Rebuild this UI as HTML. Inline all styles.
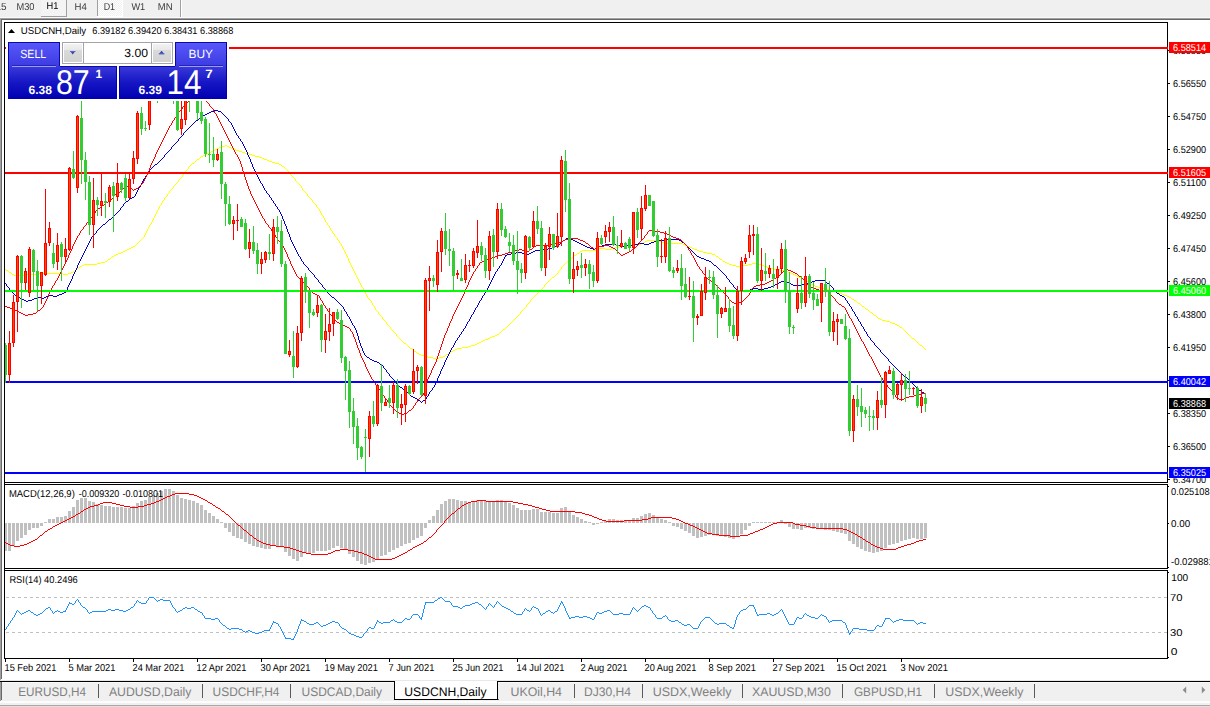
<!DOCTYPE html>
<html><head><meta charset="utf-8"><title>USDCNH,Daily</title>
<style>html,body{margin:0;padding:0;background:#fff;overflow:hidden}svg{display:block}text{font-family:"Liberation Sans",sans-serif;white-space:pre;text-rendering:geometricPrecision}</style>
</head><body>
<svg width="1210" height="707" viewBox="0 0 1210 707">
<defs>
<linearGradient id="gb" x1="0" y1="0" x2="0" y2="1"><stop offset="0" stop-color="#5858fb"/><stop offset="1" stop-color="#3c3ce2"/></linearGradient>
<linearGradient id="gp" x1="0" y1="0" x2="0" y2="1"><stop offset="0" stop-color="#3a3adc"/><stop offset="0.5" stop-color="#1616c4"/><stop offset="1" stop-color="#0000b2"/></linearGradient>
<linearGradient id="gs" x1="0" y1="0" x2="0" y2="1"><stop offset="0" stop-color="#ececec"/><stop offset="0.45" stop-color="#e2e2e2"/><stop offset="0.5" stop-color="#d2d2d2"/><stop offset="1" stop-color="#cacaca"/></linearGradient>
<pattern id="chk" width="2" height="2" patternUnits="userSpaceOnUse"><rect width="2" height="2" fill="#f0f0f0"/><rect width="1" height="1" fill="#fff"/><rect x="1" y="1" width="1" height="1" fill="#fff"/></pattern>
<clipPath id="cm"><rect x="5" y="23" width="1162" height="459"/></clipPath>
<clipPath id="cax"><rect x="1168" y="20" width="42" height="463"/></clipPath>
<filter id="gray" x="0" y="0" width="100%" height="100%" filterUnits="userSpaceOnUse" color-interpolation-filters="sRGB"><feColorMatrix type="saturate" values="0"/></filter>
<linearGradient id="gs1" x1="0" y1="0" x2="0" y2="1"><stop offset="0" stop-color="#f2f2f2"/><stop offset="1" stop-color="#e8e8e8"/></linearGradient>
<linearGradient id="gs2" x1="0" y1="0" x2="0" y2="1"><stop offset="0" stop-color="#dadada"/><stop offset="1" stop-color="#d2d2d2"/></linearGradient>
</defs>
<g shape-rendering="crispEdges">
<rect x="0" y="0" width="1210" height="707" fill="#fff" />
<rect x="0" y="0" width="1210" height="17" fill="#f0f0f0" />
<rect x="0" y="17" width="1210" height="1" fill="#fafafa" />
<rect x="0" y="18" width="1210" height="1" fill="#a0a0a0" />
<rect x="1" y="19" width="1209" height="1" fill="#696969" />
<rect x="0" y="18" width="1" height="662" fill="#a0a0a0" />
<rect x="1" y="19" width="1" height="660" fill="#696969" />
<rect x="41" y="0" width="26" height="16" fill="#f4f4f4" />
<rect x="66" y="0" width="1" height="17" fill="#a0a0a0" />
<rect x="41" y="16" width="26" height="1" fill="#a0a0a0" />
<rect x="98" y="0" width="24" height="16" fill="url(#chk)" />
<rect x="97" y="0" width="1" height="16" fill="#a0a0a0" />
<rect x="97" y="16" width="26" height="1" fill="#fff" />
<rect x="122" y="0" width="1" height="17" fill="#fff" />
<rect x="180" y="0" width="1" height="17" fill="#a0a0a0" />
<rect x="181" y="0" width="1" height="17" fill="#fff" />
</g>
<g filter="url(#gray)">
<text x="-4.6" y="10" font-size="10" fill="#3a3a3a" font-weight="normal" textLength="11.1" lengthAdjust="spacingAndGlyphs" >15</text>
<text x="16.5" y="10" font-size="10" fill="#3a3a3a" font-weight="normal" textLength="18.0" lengthAdjust="spacingAndGlyphs" >M30</text>
<text x="46.6" y="9" font-size="10" fill="#000" font-weight="normal" textLength="11.9" lengthAdjust="spacingAndGlyphs" >H1</text>
<text x="74.6" y="10" font-size="10" fill="#3a3a3a" font-weight="normal" textLength="12.3" lengthAdjust="spacingAndGlyphs" >H4</text>
<text x="103.7" y="10" font-size="10" fill="#3a3a3a" font-weight="normal" textLength="11.4" lengthAdjust="spacingAndGlyphs" >D1</text>
<text x="131.4" y="10" font-size="10" fill="#3a3a3a" font-weight="normal" textLength="13.8" lengthAdjust="spacingAndGlyphs" >W1</text>
<text x="157.8" y="10" font-size="10" fill="#3a3a3a" font-weight="normal" textLength="14.8" lengthAdjust="spacingAndGlyphs" >MN</text>
</g>
<g shape-rendering="crispEdges">
<g clip-path="url(#cm)">
<path d="M5.5 269v1M6.5 270v1M7.5 270v1M8.5 271v1M9.5 272v1M10.5 272v1M11.5 273v1M12.5 274v1M13.5 274v1M14.5 275v1M15.5 275v1M16.5 275v1M17.5 275v1M18.5 275v1M19.5 275v1M20.5 275v1M21.5 275v1M22.5 275v1M23.5 275v1M24.5 275v1M25.5 274v1M26.5 274v1M27.5 274v1M28.5 274v1M29.5 274v1M30.5 274v1M31.5 274v1M32.5 274v1M33.5 274v1M34.5 274v1M35.5 274v1M36.5 273v1M37.5 273v1M38.5 273v1M39.5 273v1M40.5 273v1M41.5 273v1M42.5 273v1M43.5 273v1M44.5 273v1M45.5 273v1M46.5 273v1M47.5 273v1M48.5 273v1M49.5 273v1M50.5 273v1M51.5 273v1M52.5 273v1M53.5 273v1M54.5 273v1M55.5 273v1M56.5 273v1M57.5 273v1M58.5 273v1M59.5 273v1M60.5 273v1M61.5 273v1M62.5 273v1M63.5 274v1M64.5 274v1M65.5 274v1M66.5 274v1M67.5 274v1M68.5 273v1M69.5 273v1M70.5 273v1M71.5 272v1M72.5 272v1M73.5 271v1M74.5 271v1M75.5 270v1M76.5 269v1M77.5 268v1M78.5 268v1M79.5 267v1M80.5 266v1M81.5 266v1M82.5 265v1M83.5 265v1M84.5 264v1M85.5 264v1M86.5 264v1M87.5 264v1M88.5 264v1M89.5 264v1M90.5 264v1M91.5 264v1M92.5 264v1M93.5 264v1M94.5 264v1M95.5 264v1M96.5 264v1M97.5 263v1M98.5 263v1M99.5 263v1M100.5 263v1M101.5 262v1M102.5 262v1M103.5 262v1M104.5 262v1M105.5 261v1M106.5 261v1M107.5 260v1M108.5 259v1M109.5 259v1M110.5 258v1M111.5 257v1M112.5 256v1M113.5 256v1M114.5 255v1M115.5 255v1M116.5 254v1M117.5 254v1M118.5 253v1M119.5 253v1M120.5 253v1M121.5 252v1M122.5 252v1M123.5 251v1M124.5 251v1M125.5 250v1M126.5 250v1M127.5 249v1M128.5 249v1M129.5 248v1M130.5 248v1M131.5 247v1M132.5 247v1M133.5 246v1M134.5 246v1M135.5 245v1M136.5 244v1M137.5 243v1M138.5 242v1M139.5 241v1M140.5 240v1M141.5 239v1M142.5 238v1M143.5 237v1M144.5 235v2M145.5 233v2M146.5 231v2M147.5 229v2M148.5 227v2M149.5 225v2M150.5 224v1M151.5 222v2M152.5 220v2M153.5 218v2M154.5 216v2M155.5 214v2M156.5 212v2M157.5 210v2M158.5 208v2M159.5 206v2M160.5 205v1M161.5 203v2M162.5 201v2M163.5 200v1M164.5 198v2M165.5 197v1M166.5 196v1M167.5 194v2M168.5 193v1M169.5 191v2M170.5 190v1M171.5 189v1M172.5 188v1M173.5 186v2M174.5 185v1M175.5 184v1M176.5 183v1M177.5 182v1M178.5 180v2M179.5 179v1M180.5 178v1M181.5 177v1M182.5 175v2M183.5 174v1M184.5 173v1M185.5 171v2M186.5 170v1M187.5 169v1M188.5 167v2M189.5 166v1M190.5 165v1M191.5 164v1M192.5 163v1M193.5 163v1M194.5 162v1M195.5 161v1M196.5 160v1M197.5 159v1M198.5 159v1M199.5 158v1M200.5 157v1M201.5 156v1M202.5 156v1M203.5 155v1M204.5 155v1M205.5 154v1M206.5 154v1M207.5 153v1M208.5 153v1M209.5 152v1M210.5 152v1M211.5 151v1M212.5 151v1M213.5 150v1M214.5 150v1M215.5 149v1M216.5 149v1M217.5 148v1M218.5 148v1M219.5 147v1M220.5 147v1M221.5 147v1M222.5 146v1M223.5 146v1M224.5 146v1M225.5 145v1M226.5 145v1M227.5 146v1M228.5 146v1M229.5 147v1M230.5 147v1M231.5 148v1M232.5 148v1M233.5 148v1M234.5 149v1M235.5 149v1M236.5 150v1M237.5 150v1M238.5 150v1M239.5 151v1M240.5 151v1M241.5 151v1M242.5 152v1M243.5 152v1M244.5 152v1M245.5 153v1M246.5 153v1M247.5 153v1M248.5 153v1M249.5 154v1M250.5 154v1M251.5 154v1M252.5 155v1M253.5 155v1M254.5 155v1M255.5 156v1M256.5 156v1M257.5 156v1M258.5 156v1M259.5 157v1M260.5 157v1M261.5 157v1M262.5 158v1M263.5 158v1M264.5 159v1M265.5 159v1M266.5 159v1M267.5 160v1M268.5 160v1M269.5 161v1M270.5 161v1M271.5 161v1M272.5 162v1M273.5 162v1M274.5 162v1M275.5 163v1M276.5 163v1M277.5 163v1M278.5 163v1M279.5 164v1M280.5 164v1M281.5 165v1M282.5 166v1M283.5 166v1M284.5 167v1M285.5 168v1M286.5 169v1M287.5 170v1M288.5 171v2M289.5 173v1M290.5 174v1M291.5 175v1M292.5 176v1M293.5 177v1M294.5 178v1M295.5 179v2M296.5 181v1M297.5 182v1M298.5 183v1M299.5 184v1M300.5 185v1M301.5 186v2M302.5 188v2M303.5 190v1M304.5 191v1M305.5 192v1M306.5 193v1M307.5 194v2M308.5 196v1M309.5 197v1M310.5 198v1M311.5 199v1M312.5 200v2M313.5 202v1M314.5 203v1M315.5 204v1M316.5 205v2M317.5 207v1M318.5 208v1M319.5 209v2M320.5 211v2M321.5 213v2M322.5 215v1M323.5 216v2M324.5 218v2M325.5 220v2M326.5 222v1M327.5 223v2M328.5 225v1M329.5 226v2M330.5 228v2M331.5 230v1M332.5 231v2M333.5 233v1M334.5 234v2M335.5 236v1M336.5 237v1M337.5 238v2M338.5 240v1M339.5 241v2M340.5 243v1M341.5 244v2M342.5 246v2M343.5 248v2M344.5 250v2M345.5 252v2M346.5 254v2M347.5 256v2M348.5 258v3M349.5 261v2M350.5 263v2M351.5 265v2M352.5 267v2M353.5 269v2M354.5 271v2M355.5 273v2M356.5 275v2M357.5 277v2M358.5 279v2M359.5 281v2M360.5 283v2M361.5 285v2M362.5 287v1M363.5 288v2M364.5 290v2M365.5 292v2M366.5 294v2M367.5 296v2M368.5 298v1M369.5 299v1M370.5 300v1M371.5 301v2M372.5 303v2M373.5 305v1M374.5 306v2M375.5 308v2M376.5 310v1M377.5 311v1M378.5 312v2M379.5 314v1M380.5 315v1M381.5 316v1M382.5 317v2M383.5 319v1M384.5 320v1M385.5 321v1M386.5 322v2M387.5 324v1M388.5 325v1M389.5 326v1M390.5 327v2M391.5 329v1M392.5 330v1M393.5 331v1M394.5 332v1M395.5 333v1M396.5 334v2M397.5 336v1M398.5 337v1M399.5 338v1M400.5 339v1M401.5 340v1M402.5 341v1M403.5 342v1M404.5 343v1M405.5 343v1M406.5 344v1M407.5 345v1M408.5 346v1M409.5 347v1M410.5 348v1M411.5 348v1M412.5 349v1M413.5 350v1M414.5 351v1M415.5 351v1M416.5 352v1M417.5 353v1M418.5 353v1M419.5 354v1M420.5 354v1M421.5 355v1M422.5 355v1M423.5 355v1M424.5 356v1M425.5 356v1M426.5 356v1M427.5 356v1M428.5 357v1M429.5 357v1M430.5 357v1M431.5 357v1M432.5 357v1M433.5 358v1M434.5 358v1M435.5 358v1M436.5 358v1M437.5 358v1M438.5 358v1M439.5 357v1M440.5 357v1M441.5 357v1M442.5 357v1M443.5 356v1M444.5 356v1M445.5 355v1M446.5 354v1M447.5 354v1M448.5 353v1M449.5 353v1M450.5 352v1M451.5 351v1M452.5 351v1M453.5 350v1M454.5 350v1M455.5 349v1M456.5 349v1M457.5 348v1M458.5 348v1M459.5 348v1M460.5 348v1M461.5 348v1M462.5 347v1M463.5 347v1M464.5 347v1M465.5 347v1M466.5 347v1M467.5 347v1M468.5 346v1M469.5 346v1M470.5 346v1M471.5 345v1M472.5 345v1M473.5 345v1M474.5 345v1M475.5 344v1M476.5 344v1M477.5 343v1M478.5 343v1M479.5 342v1M480.5 342v1M481.5 341v1M482.5 341v1M483.5 340v1M484.5 340v1M485.5 339v1M486.5 339v1M487.5 339v1M488.5 338v1M489.5 338v1M490.5 337v1M491.5 337v1M492.5 336v1M493.5 336v1M494.5 336v1M495.5 335v1M496.5 335v1M497.5 334v1M498.5 334v1M499.5 333v1M500.5 332v1M501.5 331v1M502.5 330v1M503.5 329v1M504.5 329v1M505.5 328v1M506.5 327v1M507.5 326v1M508.5 325v1M509.5 324v1M510.5 323v1M511.5 322v1M512.5 321v1M513.5 320v1M514.5 319v1M515.5 318v1M516.5 317v1M517.5 316v1M518.5 315v1M519.5 314v1M520.5 312v2M521.5 311v1M522.5 310v1M523.5 309v1M524.5 308v1M525.5 307v1M526.5 305v2M527.5 304v1M528.5 303v1M529.5 302v1M530.5 300v2M531.5 299v1M532.5 298v1M533.5 297v1M534.5 296v1M535.5 295v1M536.5 294v1M537.5 293v1M538.5 292v1M539.5 291v1M540.5 290v1M541.5 289v1M542.5 288v1M543.5 287v1M544.5 285v2M545.5 284v1M546.5 283v1M547.5 282v1M548.5 281v1M549.5 280v1M550.5 279v1M551.5 278v1M552.5 277v1M553.5 277v1M554.5 276v1M555.5 275v1M556.5 274v1M557.5 273v1M558.5 271v2M559.5 270v1M560.5 269v1M561.5 267v2M562.5 266v1M563.5 265v1M564.5 264v1M565.5 263v1M566.5 262v1M567.5 261v1M568.5 260v1M569.5 259v1M570.5 258v1M571.5 258v1M572.5 257v1M573.5 256v1M574.5 255v1M575.5 255v1M576.5 254v1M577.5 253v1M578.5 253v1M579.5 252v1M580.5 251v1M581.5 251v1M582.5 250v1M583.5 250v1M584.5 250v1M585.5 250v1M586.5 250v1M587.5 250v1M588.5 250v1M589.5 250v1M590.5 250v1M591.5 250v1M592.5 250v1M593.5 250v1M594.5 250v1M595.5 250v1M596.5 249v1M597.5 249v1M598.5 249v1M599.5 248v1M600.5 248v1M601.5 248v1M602.5 248v1M603.5 248v1M604.5 248v1M605.5 249v1M606.5 249v1M607.5 249v1M608.5 249v1M609.5 249v1M610.5 249v1M611.5 249v1M612.5 248v1M613.5 248v1M614.5 248v1M615.5 247v1M616.5 247v1M617.5 247v1M618.5 247v1M619.5 246v1M620.5 246v1M621.5 246v1M622.5 246v1M623.5 246v1M624.5 246v1M625.5 245v1M626.5 245v1M627.5 245v1M628.5 245v1M629.5 245v1M630.5 245v1M631.5 245v1M632.5 245v1M633.5 245v1M634.5 244v1M635.5 244v1M636.5 244v1M637.5 244v1M638.5 244v1M639.5 244v1M640.5 244v1M641.5 243v1M642.5 243v1M643.5 242v1M644.5 242v1M645.5 241v1M646.5 241v1M647.5 240v1M648.5 240v1M649.5 240v1M650.5 240v1M651.5 240v1M652.5 240v1M653.5 240v1M654.5 240v1M655.5 240v1M656.5 240v1M657.5 240v1M658.5 241v1M659.5 241v1M660.5 241v1M661.5 241v1M662.5 242v1M663.5 242v1M664.5 242v1M665.5 242v1M666.5 242v1M667.5 243v1M668.5 243v1M669.5 243v1M670.5 243v1M671.5 243v1M672.5 243v1M673.5 243v1M674.5 243v1M675.5 243v1M676.5 243v1M677.5 243v1M678.5 243v1M679.5 243v1M680.5 243v1M681.5 243v1M682.5 243v1M683.5 244v1M684.5 244v1M685.5 245v1M686.5 245v1M687.5 246v1M688.5 246v1M689.5 246v1M690.5 247v1M691.5 247v1M692.5 248v1M693.5 248v1M694.5 249v1M695.5 249v1M696.5 249v1M697.5 250v1M698.5 250v1M699.5 251v1M700.5 251v1M701.5 251v1M702.5 251v1M703.5 252v1M704.5 252v1M705.5 252v1M706.5 252v1M707.5 253v1M708.5 253v1M709.5 253v1M710.5 253v1M711.5 253v1M712.5 254v1M713.5 254v1M714.5 254v1M715.5 255v1M716.5 256v1M717.5 256v1M718.5 257v1M719.5 258v1M720.5 259v1M721.5 259v1M722.5 260v1M723.5 261v1M724.5 261v1M725.5 262v1M726.5 262v1M727.5 263v1M728.5 263v1M729.5 264v1M730.5 264v1M731.5 264v1M732.5 265v1M733.5 265v1M734.5 265v1M735.5 265v1M736.5 266v1M737.5 266v1M738.5 266v1M739.5 266v1M740.5 266v1M741.5 266v1M742.5 265v1M743.5 265v1M744.5 265v1M745.5 265v1M746.5 265v1M747.5 265v1M748.5 264v1M749.5 264v1M750.5 264v1M751.5 264v1M752.5 263v1M753.5 263v1M754.5 263v1M755.5 263v1M756.5 263v1M757.5 264v1M758.5 264v1M759.5 264v1M760.5 264v1M761.5 264v1M762.5 265v1M763.5 265v1M764.5 266v1M765.5 266v1M766.5 266v1M767.5 267v1M768.5 267v1M769.5 267v1M770.5 268v1M771.5 268v1M772.5 268v1M773.5 268v1M774.5 269v1M775.5 269v1M776.5 269v1M777.5 269v1M778.5 269v1M779.5 269v1M780.5 270v1M781.5 270v1M782.5 270v1M783.5 270v1M784.5 270v1M785.5 270v1M786.5 271v1M787.5 271v1M788.5 272v1M789.5 272v1M790.5 272v1M791.5 273v1M792.5 273v1M793.5 274v1M794.5 274v1M795.5 275v1M796.5 275v1M797.5 276v1M798.5 276v1M799.5 277v1M800.5 277v1M801.5 278v1M802.5 278v1M803.5 279v1M804.5 280v1M805.5 280v1M806.5 281v1M807.5 281v1M808.5 282v1M809.5 283v1M810.5 283v1M811.5 284v1M812.5 284v1M813.5 285v1M814.5 285v1M815.5 286v1M816.5 286v1M817.5 286v1M818.5 287v1M819.5 287v1M820.5 287v1M821.5 287v1M822.5 288v1M823.5 288v1M824.5 288v1M825.5 288v1M826.5 289v1M827.5 289v1M828.5 289v1M829.5 289v1M830.5 290v1M831.5 290v1M832.5 290v1M833.5 290v1M834.5 291v1M835.5 291v1M836.5 292v1M837.5 292v1M838.5 292v1M839.5 293v1M840.5 293v1M841.5 293v1M842.5 294v1M843.5 294v1M844.5 295v1M845.5 295v1M846.5 295v1M847.5 296v1M848.5 296v1M849.5 297v1M850.5 297v1M851.5 298v1M852.5 299v1M853.5 299v1M854.5 300v1M855.5 300v1M856.5 301v1M857.5 302v1M858.5 303v1M859.5 303v1M860.5 304v1M861.5 305v1M862.5 306v1M863.5 306v1M864.5 307v1M865.5 308v1M866.5 309v1M867.5 309v1M868.5 310v1M869.5 311v1M870.5 312v1M871.5 312v1M872.5 313v1M873.5 314v1M874.5 315v1M875.5 315v1M876.5 316v1M877.5 317v1M878.5 318v1M879.5 318v1M880.5 319v1M881.5 319v1M882.5 320v1M883.5 320v1M884.5 320v1M885.5 320v1M886.5 321v1M887.5 321v1M888.5 321v1M889.5 321v1M890.5 322v1M891.5 322v1M892.5 323v1M893.5 323v1M894.5 323v1M895.5 324v1M896.5 324v1M897.5 325v1M898.5 325v1M899.5 326v1M900.5 327v1M901.5 327v1M902.5 328v1M903.5 329v1M904.5 330v1M905.5 331v1M906.5 332v1M907.5 333v1M908.5 334v1M909.5 335v1M910.5 336v1M911.5 337v1M912.5 338v1M913.5 338v1M914.5 339v1M915.5 340v1M916.5 341v1M917.5 342v1M918.5 343v1M919.5 344v1M920.5 345v1M921.5 345v1M922.5 346v1M923.5 347v1M924.5 348v1M925.5 349v1" fill="none" stroke="#ffff00" stroke-width="1"/>
<path d="M5.5 283v1M6.5 284v2M7.5 286v1M8.5 287v1M9.5 288v2M10.5 290v1M11.5 291v1M12.5 292v1M13.5 293v1M14.5 294v1M15.5 295v1M16.5 296v1M17.5 296v1M18.5 297v1M19.5 297v1M20.5 298v1M21.5 298v1M22.5 299v1M23.5 299v1M24.5 300v1M25.5 300v1M26.5 301v1M27.5 301v1M28.5 300v1M29.5 300v1M30.5 300v1M31.5 300v1M32.5 299v1M33.5 299v1M34.5 298v1M35.5 298v1M36.5 298v1M37.5 297v1M38.5 297v1M39.5 297v1M40.5 297v1M41.5 298v1M42.5 298v1M43.5 298v1M44.5 297v1M45.5 297v1M46.5 296v1M47.5 296v1M48.5 296v1M49.5 295v1M50.5 295v1M51.5 295v1M52.5 295v1M53.5 296v1M54.5 296v1M55.5 296v1M56.5 296v1M57.5 295v1M58.5 295v1M59.5 294v1M60.5 294v1M61.5 294v1M62.5 293v1M63.5 293v1M64.5 292v1M65.5 292v1M66.5 290v2M67.5 287v3M68.5 285v2M69.5 283v2M70.5 281v2M71.5 279v2M72.5 276v3M73.5 274v2M74.5 272v2M75.5 270v2M76.5 268v2M77.5 265v3M78.5 263v2M79.5 261v2M80.5 259v2M81.5 257v2M82.5 255v2M83.5 253v2M84.5 251v2M85.5 249v2M86.5 247v2M87.5 245v2M88.5 243v2M89.5 241v2M90.5 239v2M91.5 237v2M92.5 236v1M93.5 235v1M94.5 234v1M95.5 233v1M96.5 231v2M97.5 230v1M98.5 229v1M99.5 228v1M100.5 227v1M101.5 226v1M102.5 225v1M103.5 224v1M104.5 224v1M105.5 223v1M106.5 222v1M107.5 221v1M108.5 220v1M109.5 219v1M110.5 219v1M111.5 218v1M112.5 217v1M113.5 216v1M114.5 215v1M115.5 214v1M116.5 213v1M117.5 212v1M118.5 211v1M119.5 210v1M120.5 208v2M121.5 207v1M122.5 206v1M123.5 204v2M124.5 203v1M125.5 202v1M126.5 201v1M127.5 201v1M128.5 200v1M129.5 199v1M130.5 198v1M131.5 198v1M132.5 197v1M133.5 197v1M134.5 196v1M135.5 194v2M136.5 192v2M137.5 190v2M138.5 188v2M139.5 187v1M140.5 185v2M141.5 183v2M142.5 181v2M143.5 179v2M144.5 178v1M145.5 176v2M146.5 175v1M147.5 173v2M148.5 172v1M149.5 170v2M150.5 169v1M151.5 168v1M152.5 167v1M153.5 166v1M154.5 165v1M155.5 164v1M156.5 164v1M157.5 163v1M158.5 162v1M159.5 161v1M160.5 160v1M161.5 159v1M162.5 158v1M163.5 157v1M164.5 155v2M165.5 154v1M166.5 153v1M167.5 152v1M168.5 151v1M169.5 150v1M170.5 149v1M171.5 147v2M172.5 146v1M173.5 145v1M174.5 144v1M175.5 143v1M176.5 142v1M177.5 141v1M178.5 139v2M179.5 138v1M180.5 137v1M181.5 136v1M182.5 135v1M183.5 133v2M184.5 132v1M185.5 131v1M186.5 130v1M187.5 129v1M188.5 128v1M189.5 127v1M190.5 126v1M191.5 125v1M192.5 124v1M193.5 123v1M194.5 122v1M195.5 121v1M196.5 120v1M197.5 120v1M198.5 119v1M199.5 118v1M200.5 117v1M201.5 117v1M202.5 116v1M203.5 115v1M204.5 115v1M205.5 114v1M206.5 114v1M207.5 113v1M208.5 113v1M209.5 112v1M210.5 112v1M211.5 111v1M212.5 111v1M213.5 111v1M214.5 110v1M215.5 110v1M216.5 110v1M217.5 110v1M218.5 111v1M219.5 111v1M220.5 111v1M221.5 112v1M222.5 113v1M223.5 114v1M224.5 115v1M225.5 116v1M226.5 117v1M227.5 118v1M228.5 119v2M229.5 121v1M230.5 122v1M231.5 123v2M232.5 125v2M233.5 127v2M234.5 129v2M235.5 131v2M236.5 133v2M237.5 135v1M238.5 136v2M239.5 138v1M240.5 139v2M241.5 141v1M242.5 142v2M243.5 144v2M244.5 146v2M245.5 148v2M246.5 150v2M247.5 152v3M248.5 155v2M249.5 157v2M250.5 159v3M251.5 162v2M252.5 164v3M253.5 167v2M254.5 169v2M255.5 171v2M256.5 173v2M257.5 175v2M258.5 177v2M259.5 179v2M260.5 181v2M261.5 183v1M262.5 184v2M263.5 186v2M264.5 188v2M265.5 190v1M266.5 191v2M267.5 193v1M268.5 194v1M269.5 195v2M270.5 197v1M271.5 198v2M272.5 200v1M273.5 201v2M274.5 203v1M275.5 204v2M276.5 206v1M277.5 207v2M278.5 209v1M279.5 210v2M280.5 212v2M281.5 214v2M282.5 216v3M283.5 219v2M284.5 221v3M285.5 224v2M286.5 226v3M287.5 229v3M288.5 232v2M289.5 234v3M290.5 237v3M291.5 240v2M292.5 242v2M293.5 244v2M294.5 246v2M295.5 248v2M296.5 250v2M297.5 252v2M298.5 254v2M299.5 256v1M300.5 257v2M301.5 259v2M302.5 261v1M303.5 262v2M304.5 264v1M305.5 265v1M306.5 266v1M307.5 267v1M308.5 268v2M309.5 270v1M310.5 271v1M311.5 272v1M312.5 273v1M313.5 274v1M314.5 275v2M315.5 277v1M316.5 278v1M317.5 279v1M318.5 280v2M319.5 282v1M320.5 283v1M321.5 284v1M322.5 285v2M323.5 287v1M324.5 288v1M325.5 289v1M326.5 290v2M327.5 292v1M328.5 293v1M329.5 294v1M330.5 295v1M331.5 296v1M332.5 297v1M333.5 297v1M334.5 298v1M335.5 299v1M336.5 300v1M337.5 301v1M338.5 302v1M339.5 303v1M340.5 304v1M341.5 305v1M342.5 306v1M343.5 307v2M344.5 309v2M345.5 311v1M346.5 312v2M347.5 314v2M348.5 316v1M349.5 317v2M350.5 319v2M351.5 321v2M352.5 323v2M353.5 325v1M354.5 326v2M355.5 328v2M356.5 330v3M357.5 333v3M358.5 336v4M359.5 340v3M360.5 343v3M361.5 346v2M362.5 348v3M363.5 351v2M364.5 353v2M365.5 355v1M366.5 356v1M367.5 357v1M368.5 357v1M369.5 358v1M370.5 359v1M371.5 359v1M372.5 360v1M373.5 360v1M374.5 361v1M375.5 361v1M376.5 361v1M377.5 362v1M378.5 362v1M379.5 363v1M380.5 364v1M381.5 364v1M382.5 365v1M383.5 366v2M384.5 368v1M385.5 369v1M386.5 370v2M387.5 372v1M388.5 373v1M389.5 374v2M390.5 376v1M391.5 377v1M392.5 378v1M393.5 379v1M394.5 380v2M395.5 382v1M396.5 383v1M397.5 384v1M398.5 385v1M399.5 386v1M400.5 387v1M401.5 387v1M402.5 388v1M403.5 389v1M404.5 390v1M405.5 391v1M406.5 392v1M407.5 392v1M408.5 393v1M409.5 394v1M410.5 395v1M411.5 396v1M412.5 396v1M413.5 397v1M414.5 397v1M415.5 398v1M416.5 398v1M417.5 399v1M418.5 400v1M419.5 400v1M420.5 401v1M421.5 402v1M422.5 401v1M423.5 400v1M424.5 400v1M425.5 399v1M426.5 397v2M427.5 396v1M428.5 394v2M429.5 392v2M430.5 391v1M431.5 390v1M432.5 388v2M433.5 387v1M434.5 385v2M435.5 383v2M436.5 381v2M437.5 378v3M438.5 376v2M439.5 374v2M440.5 371v3M441.5 369v2M442.5 367v2M443.5 365v2M444.5 362v3M445.5 360v2M446.5 358v2M447.5 356v2M448.5 354v2M449.5 352v2M450.5 350v2M451.5 348v2M452.5 347v1M453.5 345v2M454.5 343v2M455.5 341v2M456.5 340v1M457.5 338v2M458.5 337v1M459.5 335v2M460.5 334v1M461.5 332v2M462.5 331v1M463.5 329v2M464.5 328v1M465.5 326v2M466.5 324v2M467.5 322v2M468.5 321v1M469.5 319v2M470.5 317v2M471.5 315v2M472.5 314v1M473.5 312v2M474.5 310v2M475.5 308v2M476.5 307v1M477.5 305v2M478.5 303v2M479.5 301v2M480.5 300v1M481.5 298v2M482.5 296v2M483.5 295v1M484.5 293v2M485.5 291v2M486.5 290v1M487.5 288v2M488.5 286v2M489.5 284v2M490.5 282v2M491.5 280v2M492.5 278v2M493.5 276v2M494.5 274v2M495.5 272v2M496.5 271v1M497.5 269v2M498.5 268v1M499.5 266v2M500.5 265v1M501.5 263v2M502.5 261v2M503.5 259v2M504.5 257v2M505.5 255v2M506.5 255v1M507.5 254v1M508.5 254v1M509.5 254v1M510.5 254v1M511.5 253v1M512.5 253v1M513.5 253v1M514.5 253v1M515.5 253v1M516.5 252v1M517.5 252v1M518.5 252v1M519.5 252v1M520.5 252v1M521.5 252v1M522.5 253v1M523.5 253v1M524.5 253v1M525.5 253v1M526.5 254v1M527.5 254v1M528.5 254v1M529.5 253v1M530.5 253v1M531.5 252v1M532.5 252v1M533.5 251v1M534.5 251v1M535.5 250v1M536.5 250v1M537.5 250v1M538.5 250v1M539.5 250v1M540.5 250v1M541.5 249v1M542.5 249v1M543.5 249v1M544.5 249v1M545.5 249v1M546.5 249v1M547.5 249v1M548.5 248v1M549.5 248v1M550.5 248v1M551.5 248v1M552.5 247v1M553.5 247v1M554.5 247v1M555.5 246v1M556.5 246v1M557.5 245v1M558.5 244v1M559.5 244v1M560.5 243v1M561.5 242v1M562.5 241v1M563.5 240v1M564.5 240v1M565.5 239v1M566.5 238v1M567.5 238v1M568.5 238v1M569.5 239v1M570.5 239v1M571.5 239v1M572.5 239v1M573.5 240v1M574.5 240v1M575.5 241v1M576.5 241v1M577.5 242v1M578.5 242v1M579.5 243v1M580.5 243v1M581.5 244v1M582.5 244v1M583.5 245v1M584.5 245v1M585.5 246v1M586.5 246v1M587.5 247v1M588.5 247v1M589.5 247v1M590.5 248v1M591.5 248v1M592.5 248v1M593.5 249v1M594.5 249v1M595.5 248v1M596.5 248v1M597.5 247v1M598.5 247v1M599.5 246v1M600.5 246v1M601.5 246v1M602.5 245v1M603.5 245v1M604.5 245v1M605.5 244v1M606.5 244v1M607.5 244v1M608.5 244v1M609.5 244v1M610.5 244v1M611.5 244v1M612.5 244v1M613.5 244v1M614.5 244v1M615.5 244v1M616.5 245v1M617.5 245v1M618.5 245v1M619.5 245v1M620.5 246v1M621.5 246v1M622.5 246v1M623.5 246v1M624.5 246v1M625.5 246v1M626.5 246v1M627.5 245v1M628.5 245v1M629.5 245v1M630.5 245v1M631.5 245v1M632.5 245v1M633.5 245v1M634.5 244v1M635.5 244v1M636.5 244v1M637.5 244v1M638.5 243v1M639.5 243v1M640.5 243v1M641.5 243v1M642.5 243v1M643.5 243v1M644.5 244v1M645.5 244v1M646.5 244v1M647.5 244v1M648.5 244v1M649.5 243v1M650.5 243v1M651.5 242v1M652.5 242v1M653.5 242v1M654.5 241v1M655.5 241v1M656.5 241v1M657.5 241v1M658.5 240v1M659.5 240v1M660.5 240v1M661.5 240v1M662.5 240v1M663.5 240v1M664.5 239v1M665.5 239v1M666.5 239v1M667.5 239v1M668.5 239v1M669.5 239v1M670.5 239v1M671.5 239v1M672.5 239v1M673.5 239v1M674.5 239v1M675.5 239v1M676.5 239v1M677.5 239v1M678.5 239v1M679.5 240v1M680.5 240v1M681.5 241v1M682.5 242v1M683.5 242v1M684.5 243v1M685.5 244v1M686.5 245v1M687.5 246v1M688.5 247v1M689.5 248v1M690.5 249v1M691.5 250v1M692.5 251v1M693.5 252v1M694.5 253v1M695.5 254v1M696.5 255v1M697.5 256v1M698.5 256v1M699.5 257v1M700.5 257v1M701.5 258v1M702.5 258v1M703.5 258v1M704.5 259v1M705.5 259v1M706.5 260v1M707.5 260v1M708.5 260v1M709.5 261v1M710.5 261v1M711.5 262v1M712.5 263v1M713.5 264v1M714.5 265v1M715.5 265v1M716.5 266v1M717.5 267v1M718.5 268v1M719.5 269v1M720.5 270v1M721.5 271v1M722.5 272v1M723.5 273v1M724.5 274v1M725.5 275v1M726.5 276v2M727.5 278v1M728.5 279v1M729.5 280v2M730.5 282v1M731.5 283v1M732.5 284v1M733.5 285v2M734.5 287v1M735.5 288v1M736.5 289v1M737.5 289v1M738.5 290v1M739.5 290v1M740.5 290v1M741.5 290v1M742.5 290v1M743.5 290v1M744.5 290v1M745.5 290v1M746.5 290v1M747.5 290v1M748.5 290v1M749.5 290v1M750.5 289v1M751.5 289v1M752.5 289v1M753.5 288v1M754.5 288v1M755.5 288v1M756.5 288v1M757.5 288v1M758.5 289v1M759.5 289v1M760.5 289v1M761.5 289v1M762.5 289v1M763.5 289v1M764.5 288v1M765.5 288v1M766.5 288v1M767.5 288v1M768.5 287v1M769.5 287v1M770.5 287v1M771.5 286v1M772.5 286v1M773.5 285v1M774.5 285v1M775.5 284v1M776.5 284v1M777.5 283v1M778.5 283v1M779.5 282v1M780.5 282v1M781.5 281v1M782.5 281v1M783.5 281v1M784.5 281v1M785.5 282v1M786.5 282v1M787.5 282v1M788.5 282v1M789.5 283v1M790.5 283v1M791.5 284v1M792.5 284v1M793.5 285v1M794.5 285v1M795.5 285v1M796.5 285v1M797.5 285v1M798.5 285v1M799.5 285v1M800.5 285v1M801.5 285v1M802.5 284v1M803.5 284v1M804.5 284v1M805.5 284v1M806.5 283v1M807.5 283v1M808.5 283v1M809.5 283v1M810.5 282v1M811.5 282v1M812.5 281v1M813.5 281v1M814.5 281v1M815.5 280v1M816.5 280v1M817.5 280v1M818.5 280v1M819.5 280v1M820.5 280v1M821.5 280v1M822.5 280v1M823.5 280v1M824.5 280v1M825.5 281v1M826.5 282v1M827.5 283v1M828.5 283v1M829.5 284v1M830.5 285v1M831.5 286v1M832.5 287v1M833.5 288v2M834.5 290v1M835.5 291v1M836.5 292v1M837.5 293v1M838.5 293v1M839.5 294v1M840.5 295v1M841.5 295v1M842.5 296v1M843.5 296v1M844.5 297v1M845.5 298v2M846.5 300v1M847.5 301v2M848.5 303v1M849.5 304v2M850.5 306v1M851.5 307v2M852.5 309v2M853.5 311v1M854.5 312v2M855.5 314v2M856.5 316v1M857.5 317v2M858.5 319v2M859.5 321v1M860.5 322v2M861.5 324v2M862.5 326v1M863.5 327v2M864.5 329v2M865.5 331v1M866.5 332v2M867.5 334v2M868.5 336v1M869.5 337v1M870.5 338v2M871.5 340v1M872.5 341v1M873.5 342v1M874.5 343v2M875.5 345v1M876.5 346v1M877.5 347v1M878.5 348v1M879.5 349v1M880.5 350v2M881.5 352v1M882.5 353v1M883.5 354v1M884.5 355v1M885.5 356v1M886.5 357v1M887.5 358v1M888.5 359v2M889.5 361v1M890.5 362v1M891.5 363v1M892.5 364v1M893.5 365v1M894.5 366v1M895.5 367v1M896.5 368v1M897.5 369v1M898.5 370v1M899.5 371v1M900.5 372v1M901.5 373v1M902.5 374v1M903.5 375v1M904.5 376v1M905.5 376v1M906.5 377v1M907.5 378v1M908.5 379v1M909.5 380v1M910.5 381v1M911.5 382v1M912.5 383v1M913.5 384v1M914.5 385v1M915.5 386v1M916.5 387v1M917.5 388v1M918.5 389v1M919.5 390v1M920.5 390v1M921.5 391v1M922.5 392v1M923.5 392v1M924.5 393v1M925.5 393v1" fill="none" stroke="#0000cd" stroke-width="1"/>
<path d="M5.5 306v1M6.5 306v1M7.5 307v1M8.5 307v1M9.5 307v1M10.5 308v1M11.5 308v1M12.5 308v1M13.5 309v1M14.5 309v1M15.5 310v1M16.5 310v1M17.5 311v1M18.5 311v1M19.5 312v1M20.5 312v1M21.5 313v1M22.5 313v1M23.5 314v1M24.5 314v1M25.5 315v1M26.5 315v1M27.5 315v1M28.5 314v1M29.5 314v1M30.5 314v1M31.5 314v1M32.5 314v1M33.5 313v1M34.5 313v1M35.5 313v1M36.5 312v1M37.5 311v1M38.5 310v1M39.5 310v1M40.5 309v1M41.5 308v1M42.5 307v1M43.5 305v2M44.5 303v2M45.5 301v2M46.5 299v2M47.5 297v2M48.5 294v3M49.5 292v2M50.5 290v2M51.5 288v2M52.5 286v2M53.5 285v1M54.5 283v2M55.5 281v2M56.5 280v1M57.5 278v2M58.5 276v2M59.5 274v2M60.5 272v2M61.5 270v2M62.5 268v2M63.5 266v2M64.5 264v2M65.5 262v2M66.5 260v2M67.5 258v2M68.5 255v3M69.5 253v2M70.5 251v2M71.5 249v2M72.5 246v3M73.5 244v2M74.5 242v2M75.5 240v2M76.5 238v2M77.5 236v2M78.5 235v1M79.5 233v2M80.5 231v2M81.5 230v1M82.5 229v1M83.5 227v2M84.5 226v1M85.5 225v1M86.5 223v2M87.5 222v1M88.5 221v1M89.5 220v1M90.5 218v2M91.5 217v1M92.5 216v1M93.5 214v2M94.5 213v1M95.5 211v2M96.5 210v1M97.5 209v1M98.5 208v1M99.5 208v1M100.5 207v1M101.5 206v1M102.5 205v1M103.5 205v1M104.5 204v1M105.5 203v1M106.5 202v1M107.5 202v1M108.5 201v1M109.5 201v1M110.5 200v1M111.5 199v1M112.5 198v1M113.5 196v2M114.5 195v1M115.5 194v1M116.5 193v1M117.5 193v1M118.5 192v1M119.5 192v1M120.5 191v1M121.5 190v1M122.5 189v1M123.5 188v1M124.5 187v1M125.5 187v1M126.5 187v1M127.5 186v1M128.5 186v1M129.5 186v1M130.5 187v1M131.5 188v1M132.5 189v1M133.5 190v1M134.5 189v1M135.5 189v1M136.5 188v1M137.5 188v1M138.5 187v1M139.5 186v1M140.5 185v1M141.5 184v1M142.5 183v1M143.5 181v2M144.5 179v2M145.5 177v2M146.5 175v2M147.5 173v2M148.5 171v2M149.5 168v3M150.5 165v3M151.5 163v2M152.5 161v2M153.5 159v2M154.5 157v2M155.5 154v3M156.5 152v2M157.5 150v2M158.5 148v2M159.5 146v2M160.5 144v2M161.5 142v2M162.5 140v2M163.5 138v2M164.5 136v2M165.5 134v2M166.5 132v2M167.5 130v2M168.5 128v2M169.5 126v2M170.5 125v1M171.5 123v2M172.5 121v2M173.5 120v1M174.5 118v2M175.5 117v1M176.5 115v2M177.5 113v2M178.5 112v1M179.5 111v1M180.5 110v1M181.5 109v1M182.5 107v2M183.5 106v1M184.5 105v1M185.5 104v1M186.5 103v1M187.5 102v1M188.5 101v1M189.5 100v1M190.5 99v1M191.5 98v1M192.5 98v1M193.5 97v1M194.5 97v1M195.5 96v1M196.5 96v1M197.5 96v1M198.5 97v1M199.5 97v1M200.5 97v1M201.5 98v1M202.5 98v1M203.5 99v1M204.5 100v1M205.5 100v1M206.5 101v1M207.5 102v1M208.5 103v1M209.5 104v2M210.5 106v1M211.5 107v1M212.5 108v1M213.5 109v2M214.5 111v2M215.5 113v1M216.5 114v2M217.5 116v2M218.5 118v2M219.5 120v2M220.5 122v2M221.5 124v2M222.5 126v2M223.5 128v2M224.5 130v2M225.5 132v2M226.5 134v2M227.5 136v2M228.5 138v2M229.5 140v2M230.5 142v2M231.5 144v2M232.5 146v2M233.5 148v2M234.5 150v2M235.5 152v2M236.5 154v1M237.5 155v2M238.5 157v2M239.5 159v2M240.5 161v3M241.5 164v3M242.5 167v4M243.5 171v3M244.5 174v3M245.5 177v3M246.5 180v3M247.5 183v3M248.5 186v3M249.5 189v2M250.5 191v3M251.5 194v2M252.5 196v2M253.5 198v2M254.5 200v2M255.5 202v2M256.5 204v2M257.5 206v2M258.5 208v2M259.5 210v2M260.5 212v2M261.5 214v2M262.5 216v2M263.5 218v1M264.5 219v2M265.5 221v2M266.5 223v1M267.5 224v1M268.5 225v2M269.5 227v1M270.5 228v1M271.5 229v2M272.5 231v1M273.5 232v2M274.5 234v1M275.5 235v2M276.5 237v1M277.5 238v2M278.5 240v1M279.5 241v1M280.5 242v1M281.5 243v2M282.5 245v1M283.5 246v2M284.5 248v2M285.5 250v2M286.5 252v2M287.5 254v3M288.5 257v2M289.5 259v2M290.5 261v3M291.5 264v2M292.5 266v2M293.5 268v2M294.5 270v2M295.5 272v2M296.5 274v2M297.5 276v1M298.5 277v1M299.5 278v1M300.5 279v1M301.5 280v1M302.5 281v1M303.5 282v1M304.5 283v1M305.5 284v1M306.5 285v1M307.5 286v1M308.5 287v1M309.5 288v2M310.5 290v1M311.5 291v1M312.5 292v1M313.5 293v1M314.5 293v1M315.5 294v1M316.5 294v1M317.5 295v1M318.5 295v1M319.5 296v2M320.5 298v2M321.5 300v1M322.5 301v2M323.5 303v2M324.5 305v1M325.5 306v2M326.5 308v1M327.5 309v2M328.5 311v1M329.5 312v2M330.5 314v1M331.5 315v1M332.5 316v1M333.5 317v2M334.5 319v1M335.5 320v1M336.5 321v1M337.5 322v1M338.5 322v1M339.5 323v1M340.5 323v1M341.5 324v1M342.5 324v1M343.5 325v1M344.5 325v1M345.5 326v1M346.5 326v1M347.5 327v1M348.5 327v1M349.5 328v1M350.5 329v2M351.5 331v1M352.5 332v2M353.5 334v3M354.5 337v2M355.5 339v3M356.5 342v3M357.5 345v3M358.5 348v2M359.5 350v3M360.5 353v3M361.5 356v2M362.5 358v2M363.5 360v2M364.5 362v2M365.5 364v3M366.5 367v2M367.5 369v2M368.5 371v2M369.5 373v2M370.5 375v2M371.5 377v2M372.5 379v1M373.5 380v2M374.5 382v1M375.5 383v2M376.5 385v1M377.5 386v2M378.5 388v1M379.5 389v1M380.5 390v2M381.5 392v1M382.5 393v2M383.5 395v1M384.5 396v2M385.5 398v1M386.5 399v1M387.5 400v2M388.5 402v1M389.5 403v2M390.5 405v1M391.5 406v1M392.5 407v1M393.5 408v1M394.5 409v1M395.5 410v1M396.5 411v1M397.5 412v1M398.5 412v1M399.5 413v1M400.5 413v1M401.5 414v1M402.5 414v1M403.5 414v1M404.5 413v1M405.5 413v1M406.5 413v1M407.5 412v1M408.5 411v1M409.5 410v1M410.5 410v1M411.5 409v1M412.5 408v1M413.5 406v2M414.5 405v1M415.5 403v2M416.5 402v1M417.5 400v2M418.5 399v1M419.5 398v1M420.5 397v1M421.5 396v1M422.5 395v1M423.5 393v2M424.5 389v4M425.5 385v4M426.5 381v4M427.5 379v2M428.5 377v2M429.5 375v2M430.5 373v2M431.5 370v3M432.5 368v2M433.5 366v2M434.5 364v2M435.5 362v2M436.5 359v3M437.5 356v3M438.5 353v3M439.5 350v3M440.5 347v3M441.5 344v3M442.5 341v3M443.5 338v3M444.5 335v3M445.5 333v2M446.5 331v2M447.5 328v3M448.5 326v2M449.5 323v3M450.5 321v2M451.5 319v2M452.5 316v3M453.5 314v2M454.5 312v2M455.5 310v2M456.5 308v2M457.5 306v2M458.5 304v2M459.5 302v2M460.5 300v2M461.5 298v2M462.5 296v2M463.5 294v2M464.5 291v3M465.5 289v2M466.5 287v2M467.5 285v2M468.5 282v3M469.5 280v2M470.5 278v2M471.5 276v2M472.5 274v2M473.5 272v2M474.5 271v1M475.5 269v2M476.5 268v1M477.5 266v2M478.5 265v1M479.5 263v2M480.5 262v1M481.5 262v1M482.5 261v1M483.5 261v1M484.5 260v1M485.5 260v1M486.5 260v1M487.5 259v1M488.5 259v1M489.5 258v1M490.5 258v1M491.5 258v1M492.5 257v1M493.5 257v1M494.5 257v1M495.5 256v1M496.5 256v1M497.5 256v1M498.5 255v1M499.5 255v1M500.5 255v1M501.5 255v1M502.5 254v1M503.5 254v1M504.5 254v1M505.5 253v1M506.5 253v1M507.5 253v1M508.5 252v1M509.5 252v1M510.5 252v1M511.5 252v1M512.5 251v1M513.5 251v1M514.5 251v1M515.5 250v1M516.5 250v1M517.5 250v1M518.5 250v1M519.5 249v1M520.5 249v1M521.5 249v1M522.5 250v1M523.5 250v1M524.5 250v1M525.5 250v1M526.5 251v1M527.5 251v1M528.5 251v1M529.5 250v1M530.5 249v1M531.5 249v1M532.5 248v1M533.5 247v1M534.5 246v1M535.5 246v1M536.5 245v1M537.5 245v1M538.5 245v1M539.5 245v1M540.5 245v1M541.5 245v1M542.5 245v1M543.5 245v1M544.5 245v1M545.5 245v1M546.5 245v1M547.5 245v1M548.5 245v1M549.5 245v1M550.5 244v1M551.5 244v1M552.5 244v1M553.5 244v1M554.5 243v1M555.5 243v1M556.5 243v1M557.5 243v1M558.5 242v1M559.5 242v1M560.5 242v1M561.5 241v1M562.5 241v1M563.5 240v1M564.5 240v1M565.5 239v1M566.5 239v1M567.5 239v1M568.5 239v1M569.5 239v1M570.5 239v1M571.5 238v1M572.5 238v1M573.5 238v1M574.5 238v1M575.5 238v1M576.5 238v1M577.5 238v1M578.5 239v1M579.5 239v1M580.5 240v1M581.5 240v1M582.5 240v1M583.5 241v1M584.5 241v1M585.5 242v1M586.5 243v1M587.5 243v1M588.5 244v1M589.5 245v1M590.5 246v1M591.5 247v1M592.5 247v1M593.5 248v1M594.5 249v1M595.5 248v1M596.5 248v1M597.5 247v1M598.5 247v1M599.5 246v1M600.5 246v1M601.5 246v1M602.5 246v1M603.5 246v1M604.5 245v1M605.5 245v1M606.5 245v1M607.5 245v1M608.5 245v1M609.5 246v1M610.5 246v1M611.5 247v1M612.5 247v1M613.5 248v1M614.5 248v1M615.5 249v1M616.5 250v1M617.5 251v1M618.5 252v1M619.5 253v1M620.5 254v1M621.5 255v1M622.5 255v1M623.5 254v1M624.5 254v1M625.5 253v1M626.5 253v1M627.5 252v1M628.5 252v1M629.5 251v1M630.5 251v1M631.5 250v1M632.5 249v1M633.5 248v1M634.5 248v1M635.5 247v1M636.5 246v1M637.5 245v1M638.5 244v1M639.5 242v2M640.5 241v1M641.5 240v1M642.5 239v1M643.5 238v1M644.5 236v2M645.5 235v1M646.5 234v1M647.5 232v2M648.5 231v1M649.5 230v1M650.5 230v1M651.5 230v1M652.5 230v1M653.5 231v1M654.5 231v1M655.5 231v1M656.5 231v1M657.5 231v1M658.5 231v1M659.5 231v1M660.5 232v1M661.5 232v1M662.5 232v1M663.5 232v1M664.5 233v1M665.5 233v1M666.5 233v1M667.5 234v1M668.5 234v1M669.5 235v1M670.5 235v1M671.5 236v1M672.5 236v1M673.5 237v1M674.5 237v1M675.5 237v1M676.5 238v1M677.5 238v1M678.5 238v1M679.5 239v1M680.5 239v1M681.5 240v1M682.5 241v1M683.5 242v1M684.5 243v1M685.5 244v1M686.5 245v1M687.5 246v2M688.5 248v2M689.5 250v1M690.5 251v2M691.5 253v2M692.5 255v1M693.5 256v2M694.5 258v2M695.5 260v2M696.5 262v2M697.5 264v2M698.5 266v1M699.5 267v2M700.5 269v1M701.5 270v1M702.5 271v2M703.5 273v1M704.5 274v1M705.5 275v2M706.5 277v1M707.5 278v1M708.5 279v1M709.5 279v1M710.5 280v1M711.5 281v1M712.5 282v1M713.5 283v1M714.5 283v1M715.5 284v1M716.5 285v1M717.5 286v1M718.5 287v1M719.5 288v1M720.5 289v1M721.5 290v1M722.5 291v1M723.5 292v1M724.5 293v1M725.5 294v1M726.5 295v1M727.5 296v1M728.5 297v2M729.5 299v1M730.5 300v1M731.5 301v1M732.5 302v1M733.5 302v1M734.5 303v1M735.5 303v1M736.5 303v1M737.5 303v1M738.5 302v1M739.5 302v1M740.5 302v1M741.5 301v1M742.5 301v1M743.5 300v1M744.5 299v1M745.5 298v1M746.5 297v1M747.5 296v1M748.5 295v1M749.5 293v2M750.5 291v2M751.5 289v2M752.5 288v1M753.5 287v1M754.5 286v1M755.5 286v1M756.5 285v1M757.5 285v1M758.5 285v1M759.5 285v1M760.5 284v1M761.5 284v1M762.5 284v1M763.5 284v1M764.5 284v1M765.5 283v1M766.5 283v1M767.5 282v1M768.5 282v1M769.5 281v1M770.5 281v1M771.5 280v1M772.5 280v1M773.5 279v1M774.5 278v1M775.5 278v1M776.5 277v1M777.5 276v1M778.5 275v1M779.5 275v1M780.5 274v1M781.5 273v1M782.5 272v1M783.5 271v1M784.5 271v1M785.5 270v1M786.5 269v1M787.5 269v1M788.5 270v1M789.5 270v1M790.5 270v1M791.5 271v1M792.5 271v1M793.5 272v1M794.5 272v1M795.5 273v1M796.5 273v1M797.5 274v1M798.5 275v1M799.5 276v1M800.5 276v1M801.5 277v1M802.5 278v1M803.5 279v1M804.5 280v1M805.5 281v2M806.5 283v1M807.5 284v1M808.5 285v1M809.5 286v1M810.5 286v1M811.5 287v1M812.5 287v1M813.5 288v1M814.5 288v1M815.5 288v1M816.5 289v1M817.5 289v1M818.5 289v1M819.5 290v1M820.5 290v1M821.5 290v1M822.5 290v1M823.5 290v1M824.5 290v1M825.5 290v1M826.5 290v1M827.5 291v1M828.5 292v1M829.5 293v1M830.5 294v1M831.5 295v1M832.5 296v1M833.5 297v1M834.5 298v1M835.5 299v2M836.5 301v1M837.5 302v1M838.5 303v1M839.5 304v1M840.5 304v1M841.5 305v1M842.5 306v1M843.5 306v1M844.5 307v1M845.5 308v2M846.5 310v2M847.5 312v2M848.5 314v2M849.5 316v2M850.5 318v1M851.5 319v2M852.5 321v2M853.5 323v2M854.5 325v2M855.5 327v2M856.5 329v2M857.5 331v2M858.5 333v2M859.5 335v2M860.5 337v2M861.5 339v2M862.5 341v1M863.5 342v2M864.5 344v2M865.5 346v2M866.5 348v2M867.5 350v2M868.5 352v2M869.5 354v2M870.5 356v1M871.5 357v2M872.5 359v2M873.5 361v2M874.5 363v2M875.5 365v2M876.5 367v2M877.5 369v2M878.5 371v2M879.5 373v2M880.5 375v2M881.5 377v1M882.5 378v2M883.5 380v2M884.5 382v1M885.5 383v1M886.5 384v1M887.5 385v2M888.5 387v1M889.5 388v1M890.5 389v1M891.5 390v1M892.5 391v2M893.5 393v1M894.5 394v1M895.5 395v2M896.5 397v1M897.5 398v1M898.5 398v1M899.5 399v1M900.5 399v1M901.5 400v1M902.5 399v1M903.5 399v1M904.5 398v1M905.5 398v1M906.5 397v1M907.5 397v1M908.5 397v1M909.5 396v1M910.5 396v1M911.5 396v1M912.5 396v1M913.5 396v1M914.5 395v1M915.5 395v1M916.5 395v1M917.5 394v1M918.5 394v1M919.5 394v1M920.5 394v1M921.5 393v1M922.5 393v1M923.5 393v1M924.5 393v1" fill="none" stroke="#ff0000" stroke-width="1"/>
<rect x="5" y="47" width="1162" height="2" fill="#ff0000" />
<rect x="5" y="172" width="1162" height="2" fill="#ff0000" />
<rect x="5" y="290" width="1162" height="2" fill="#00ff00" />
<rect x="5" y="381" width="1162" height="2" fill="#0000ff" />
<rect x="5" y="472" width="1162" height="2" fill="#0000ff" />
<rect x="5" y="343" width="1" height="40" fill="#32cd32" />
<rect x="4" y="345" width="3" height="30" fill="#32cd32" />
<rect x="9" y="331" width="1" height="52" fill="#ff0000" />
<rect x="8" y="343" width="3" height="32" fill="#ff0000" />
<rect x="9" y="344" width="1" height="30" fill="#ff4500" />
<rect x="13" y="295" width="1" height="52" fill="#ff0000" />
<rect x="12" y="302" width="3" height="41" fill="#ff0000" />
<rect x="13" y="303" width="1" height="39" fill="#ff4500" />
<rect x="17" y="255" width="1" height="77" fill="#ff0000" />
<rect x="16" y="256" width="3" height="46" fill="#ff0000" />
<rect x="17" y="257" width="1" height="44" fill="#ff4500" />
<rect x="21" y="255" width="1" height="53" fill="#32cd32" />
<rect x="20" y="256" width="3" height="27" fill="#32cd32" />
<rect x="25" y="268" width="1" height="22" fill="#ff0000" />
<rect x="24" y="271" width="3" height="12" fill="#ff0000" />
<rect x="25" y="272" width="1" height="10" fill="#ff4500" />
<rect x="29" y="247" width="1" height="50" fill="#ff0000" />
<rect x="28" y="249" width="3" height="44" fill="#ff0000" />
<rect x="29" y="250" width="1" height="42" fill="#ff4500" />
<rect x="33" y="249" width="1" height="41" fill="#32cd32" />
<rect x="32" y="250" width="3" height="22" fill="#32cd32" />
<rect x="37" y="260" width="1" height="51" fill="#32cd32" />
<rect x="36" y="271" width="3" height="15" fill="#32cd32" />
<rect x="41" y="272" width="1" height="32" fill="#ff0000" />
<rect x="40" y="272" width="3" height="14" fill="#ff0000" />
<rect x="41" y="273" width="1" height="12" fill="#ff4500" />
<rect x="45" y="189" width="1" height="87" fill="#ff0000" />
<rect x="44" y="243" width="3" height="32" fill="#ff0000" />
<rect x="45" y="244" width="1" height="30" fill="#ff4500" />
<rect x="49" y="222" width="1" height="24" fill="#ff0000" />
<rect x="48" y="228" width="3" height="15" fill="#ff0000" />
<rect x="49" y="229" width="1" height="13" fill="#ff4500" />
<rect x="53" y="243" width="1" height="25" fill="#32cd32" />
<rect x="52" y="253" width="3" height="11" fill="#32cd32" />
<rect x="57" y="233" width="1" height="37" fill="#ff0000" />
<rect x="56" y="245" width="3" height="17" fill="#ff0000" />
<rect x="57" y="246" width="1" height="15" fill="#ff4500" />
<rect x="61" y="242" width="1" height="39" fill="#32cd32" />
<rect x="60" y="244" width="3" height="13" fill="#32cd32" />
<rect x="65" y="238" width="1" height="24" fill="#ff0000" />
<rect x="64" y="249" width="3" height="8" fill="#ff0000" />
<rect x="65" y="250" width="1" height="6" fill="#ff4500" />
<rect x="69" y="167" width="1" height="84" fill="#ff0000" />
<rect x="68" y="168" width="3" height="82" fill="#ff0000" />
<rect x="69" y="169" width="1" height="80" fill="#ff4500" />
<rect x="73" y="151" width="1" height="28" fill="#32cd32" />
<rect x="72" y="169" width="3" height="9" fill="#32cd32" />
<rect x="77" y="115" width="1" height="78" fill="#ff0000" />
<rect x="76" y="116" width="3" height="72" fill="#ff0000" />
<rect x="77" y="117" width="1" height="70" fill="#ff4500" />
<rect x="81" y="101" width="1" height="83" fill="#32cd32" />
<rect x="80" y="118" width="3" height="42" fill="#32cd32" />
<rect x="85" y="152" width="1" height="48" fill="#32cd32" />
<rect x="84" y="160" width="3" height="22" fill="#32cd32" />
<rect x="89" y="176" width="1" height="59" fill="#32cd32" />
<rect x="88" y="182" width="3" height="43" fill="#32cd32" />
<rect x="93" y="178" width="1" height="70" fill="#ff0000" />
<rect x="92" y="200" width="3" height="25" fill="#ff0000" />
<rect x="93" y="201" width="1" height="23" fill="#ff4500" />
<rect x="97" y="197" width="1" height="19" fill="#32cd32" />
<rect x="96" y="200" width="3" height="5" fill="#32cd32" />
<rect x="101" y="174" width="1" height="42" fill="#ff0000" />
<rect x="100" y="201" width="3" height="5" fill="#ff0000" />
<rect x="101" y="202" width="1" height="3" fill="#ff4500" />
<rect x="105" y="193" width="1" height="25" fill="#32cd32" />
<rect x="104" y="201" width="3" height="2" fill="#32cd32" />
<rect x="109" y="185" width="1" height="22" fill="#ff0000" />
<rect x="108" y="187" width="3" height="15" fill="#ff0000" />
<rect x="109" y="188" width="1" height="13" fill="#ff4500" />
<rect x="113" y="182" width="1" height="50" fill="#32cd32" />
<rect x="112" y="186" width="3" height="10" fill="#32cd32" />
<rect x="117" y="163" width="1" height="38" fill="#ff0000" />
<rect x="116" y="183" width="3" height="14" fill="#ff0000" />
<rect x="117" y="184" width="1" height="12" fill="#ff4500" />
<rect x="121" y="182" width="1" height="11" fill="#32cd32" />
<rect x="120" y="183" width="3" height="7" fill="#32cd32" />
<rect x="125" y="174" width="1" height="27" fill="#32cd32" />
<rect x="124" y="178" width="3" height="20" fill="#32cd32" />
<rect x="129" y="174" width="1" height="25" fill="#ff0000" />
<rect x="128" y="179" width="3" height="19" fill="#ff0000" />
<rect x="129" y="180" width="1" height="17" fill="#ff4500" />
<rect x="133" y="151" width="1" height="33" fill="#ff0000" />
<rect x="132" y="158" width="3" height="21" fill="#ff0000" />
<rect x="133" y="159" width="1" height="19" fill="#ff4500" />
<rect x="137" y="111" width="1" height="53" fill="#ff0000" />
<rect x="136" y="113" width="3" height="46" fill="#ff0000" />
<rect x="137" y="114" width="1" height="44" fill="#ff4500" />
<rect x="141" y="107" width="1" height="28" fill="#32cd32" />
<rect x="140" y="113" width="3" height="16" fill="#32cd32" />
<rect x="145" y="121" width="1" height="10" fill="#32cd32" />
<rect x="144" y="128" width="3" height="1" fill="#32cd32" />
<rect x="149" y="80" width="1" height="50" fill="#ff0000" />
<rect x="148" y="85" width="3" height="40" fill="#ff0000" />
<rect x="149" y="86" width="1" height="38" fill="#ff4500" />
<rect x="153" y="80" width="1" height="18" fill="#32cd32" />
<rect x="152" y="85" width="3" height="10" fill="#32cd32" />
<rect x="157" y="85" width="1" height="18" fill="#32cd32" />
<rect x="156" y="88" width="3" height="8" fill="#32cd32" />
<rect x="161" y="70" width="1" height="26" fill="#ff0000" />
<rect x="160" y="75" width="3" height="15" fill="#ff0000" />
<rect x="161" y="76" width="1" height="13" fill="#ff4500" />
<rect x="165" y="60" width="1" height="32" fill="#ff0000" />
<rect x="164" y="65" width="3" height="23" fill="#ff0000" />
<rect x="165" y="66" width="1" height="21" fill="#ff4500" />
<rect x="169" y="62" width="1" height="33" fill="#32cd32" />
<rect x="168" y="66" width="3" height="24" fill="#32cd32" />
<rect x="173" y="80" width="1" height="24" fill="#32cd32" />
<rect x="172" y="85" width="3" height="16" fill="#32cd32" />
<rect x="177" y="70" width="1" height="61" fill="#32cd32" />
<rect x="176" y="75" width="3" height="55" fill="#32cd32" />
<rect x="181" y="95" width="1" height="40" fill="#ff0000" />
<rect x="180" y="119" width="3" height="10" fill="#ff0000" />
<rect x="181" y="120" width="1" height="8" fill="#ff4500" />
<rect x="185" y="85" width="1" height="40" fill="#ff0000" />
<rect x="184" y="90" width="3" height="30" fill="#ff0000" />
<rect x="185" y="91" width="1" height="28" fill="#ff4500" />
<rect x="189" y="80" width="1" height="32" fill="#32cd32" />
<rect x="188" y="85" width="3" height="13" fill="#32cd32" />
<rect x="193" y="70" width="1" height="27" fill="#ff0000" />
<rect x="192" y="75" width="3" height="20" fill="#ff0000" />
<rect x="193" y="76" width="1" height="18" fill="#ff4500" />
<rect x="197" y="75" width="1" height="45" fill="#32cd32" />
<rect x="196" y="80" width="3" height="33" fill="#32cd32" />
<rect x="201" y="95" width="1" height="29" fill="#32cd32" />
<rect x="200" y="112" width="3" height="9" fill="#32cd32" />
<rect x="205" y="117" width="1" height="40" fill="#32cd32" />
<rect x="204" y="119" width="3" height="35" fill="#32cd32" />
<rect x="209" y="123" width="1" height="40" fill="#32cd32" />
<rect x="208" y="154" width="3" height="1" fill="#32cd32" />
<rect x="213" y="137" width="1" height="30" fill="#32cd32" />
<rect x="212" y="154" width="3" height="6" fill="#32cd32" />
<rect x="217" y="149" width="1" height="12" fill="#ff0000" />
<rect x="216" y="154" width="3" height="6" fill="#ff0000" />
<rect x="217" y="155" width="1" height="4" fill="#ff4500" />
<rect x="221" y="141" width="1" height="58" fill="#32cd32" />
<rect x="220" y="152" width="3" height="32" fill="#32cd32" />
<rect x="225" y="182" width="1" height="44" fill="#32cd32" />
<rect x="224" y="184" width="3" height="20" fill="#32cd32" />
<rect x="229" y="196" width="1" height="29" fill="#32cd32" />
<rect x="228" y="204" width="3" height="20" fill="#32cd32" />
<rect x="233" y="216" width="1" height="24" fill="#ff0000" />
<rect x="232" y="220" width="3" height="4" fill="#ff0000" />
<rect x="233" y="221" width="1" height="2" fill="#ff4500" />
<rect x="237" y="204" width="1" height="27" fill="#ff0000" />
<rect x="236" y="220" width="3" height="1" fill="#ff0000" />
<rect x="241" y="217" width="1" height="10" fill="#32cd32" />
<rect x="240" y="219" width="3" height="8" fill="#32cd32" />
<rect x="245" y="219" width="1" height="31" fill="#32cd32" />
<rect x="244" y="223" width="3" height="26" fill="#32cd32" />
<rect x="249" y="229" width="1" height="29" fill="#ff0000" />
<rect x="248" y="242" width="3" height="7" fill="#ff0000" />
<rect x="249" y="243" width="1" height="5" fill="#ff4500" />
<rect x="253" y="226" width="1" height="28" fill="#32cd32" />
<rect x="252" y="242" width="3" height="9" fill="#32cd32" />
<rect x="257" y="243" width="1" height="31" fill="#32cd32" />
<rect x="256" y="250" width="3" height="14" fill="#32cd32" />
<rect x="261" y="252" width="1" height="22" fill="#ff0000" />
<rect x="260" y="259" width="3" height="5" fill="#ff0000" />
<rect x="261" y="260" width="1" height="3" fill="#ff4500" />
<rect x="265" y="251" width="1" height="12" fill="#ff0000" />
<rect x="264" y="252" width="3" height="8" fill="#ff0000" />
<rect x="265" y="253" width="1" height="6" fill="#ff4500" />
<rect x="269" y="234" width="1" height="26" fill="#32cd32" />
<rect x="268" y="252" width="3" height="2" fill="#32cd32" />
<rect x="273" y="219" width="1" height="42" fill="#ff0000" />
<rect x="272" y="227" width="3" height="27" fill="#ff0000" />
<rect x="273" y="228" width="1" height="25" fill="#ff4500" />
<rect x="277" y="216" width="1" height="28" fill="#32cd32" />
<rect x="276" y="227" width="3" height="5" fill="#32cd32" />
<rect x="281" y="220" width="1" height="47" fill="#32cd32" />
<rect x="280" y="231" width="3" height="33" fill="#32cd32" />
<rect x="285" y="261" width="1" height="93" fill="#32cd32" />
<rect x="284" y="264" width="3" height="90" fill="#32cd32" />
<rect x="289" y="340" width="1" height="17" fill="#ff0000" />
<rect x="288" y="351" width="3" height="4" fill="#ff0000" />
<rect x="289" y="352" width="1" height="2" fill="#ff4500" />
<rect x="293" y="331" width="1" height="47" fill="#32cd32" />
<rect x="292" y="356" width="3" height="11" fill="#32cd32" />
<rect x="297" y="326" width="1" height="42" fill="#ff0000" />
<rect x="296" y="333" width="3" height="34" fill="#ff0000" />
<rect x="297" y="334" width="1" height="32" fill="#ff4500" />
<rect x="301" y="276" width="1" height="65" fill="#ff0000" />
<rect x="300" y="278" width="3" height="55" fill="#ff0000" />
<rect x="301" y="279" width="1" height="53" fill="#ff4500" />
<rect x="305" y="273" width="1" height="30" fill="#32cd32" />
<rect x="304" y="277" width="3" height="14" fill="#32cd32" />
<rect x="309" y="290" width="1" height="38" fill="#32cd32" />
<rect x="308" y="290" width="3" height="23" fill="#32cd32" />
<rect x="313" y="309" width="1" height="7" fill="#32cd32" />
<rect x="312" y="312" width="3" height="3" fill="#32cd32" />
<rect x="317" y="296" width="1" height="21" fill="#ff0000" />
<rect x="316" y="305" width="3" height="8" fill="#ff0000" />
<rect x="317" y="306" width="1" height="6" fill="#ff4500" />
<rect x="321" y="304" width="1" height="48" fill="#32cd32" />
<rect x="320" y="305" width="3" height="35" fill="#32cd32" />
<rect x="325" y="314" width="1" height="39" fill="#ff0000" />
<rect x="324" y="331" width="3" height="9" fill="#ff0000" />
<rect x="325" y="332" width="1" height="7" fill="#ff4500" />
<rect x="329" y="308" width="1" height="33" fill="#ff0000" />
<rect x="328" y="324" width="3" height="8" fill="#ff0000" />
<rect x="329" y="325" width="1" height="6" fill="#ff4500" />
<rect x="333" y="312" width="1" height="24" fill="#ff0000" />
<rect x="332" y="312" width="3" height="12" fill="#ff0000" />
<rect x="333" y="313" width="1" height="10" fill="#ff4500" />
<rect x="337" y="309" width="1" height="11" fill="#32cd32" />
<rect x="336" y="312" width="3" height="7" fill="#32cd32" />
<rect x="341" y="310" width="1" height="53" fill="#32cd32" />
<rect x="340" y="320" width="3" height="38" fill="#32cd32" />
<rect x="345" y="356" width="1" height="44" fill="#32cd32" />
<rect x="344" y="357" width="3" height="14" fill="#32cd32" />
<rect x="349" y="361" width="1" height="67" fill="#32cd32" />
<rect x="348" y="370" width="3" height="42" fill="#32cd32" />
<rect x="353" y="398" width="1" height="46" fill="#32cd32" />
<rect x="352" y="411" width="3" height="16" fill="#32cd32" />
<rect x="357" y="418" width="1" height="42" fill="#32cd32" />
<rect x="356" y="426" width="3" height="22" fill="#32cd32" />
<rect x="361" y="446" width="1" height="13" fill="#32cd32" />
<rect x="360" y="447" width="3" height="10" fill="#32cd32" />
<rect x="365" y="429" width="1" height="43" fill="#32cd32" />
<rect x="364" y="437" width="3" height="1" fill="#32cd32" />
<rect x="369" y="411" width="1" height="46" fill="#ff0000" />
<rect x="368" y="416" width="3" height="23" fill="#ff0000" />
<rect x="369" y="417" width="1" height="21" fill="#ff4500" />
<rect x="373" y="401" width="1" height="26" fill="#32cd32" />
<rect x="372" y="416" width="3" height="8" fill="#32cd32" />
<rect x="377" y="384" width="1" height="42" fill="#ff0000" />
<rect x="376" y="385" width="3" height="39" fill="#ff0000" />
<rect x="377" y="386" width="1" height="37" fill="#ff4500" />
<rect x="381" y="364" width="1" height="47" fill="#32cd32" />
<rect x="380" y="386" width="3" height="17" fill="#32cd32" />
<rect x="385" y="398" width="1" height="8" fill="#ff0000" />
<rect x="384" y="402" width="3" height="4" fill="#ff0000" />
<rect x="385" y="403" width="1" height="2" fill="#ff4500" />
<rect x="389" y="385" width="1" height="23" fill="#32cd32" />
<rect x="388" y="398" width="3" height="5" fill="#32cd32" />
<rect x="393" y="382" width="1" height="32" fill="#ff0000" />
<rect x="392" y="385" width="3" height="18" fill="#ff0000" />
<rect x="393" y="386" width="1" height="16" fill="#ff4500" />
<rect x="397" y="379" width="1" height="39" fill="#32cd32" />
<rect x="396" y="385" width="3" height="23" fill="#32cd32" />
<rect x="401" y="394" width="1" height="31" fill="#ff0000" />
<rect x="400" y="404" width="3" height="4" fill="#ff0000" />
<rect x="401" y="405" width="1" height="2" fill="#ff4500" />
<rect x="405" y="384" width="1" height="38" fill="#ff0000" />
<rect x="404" y="386" width="3" height="19" fill="#ff0000" />
<rect x="405" y="387" width="1" height="17" fill="#ff4500" />
<rect x="409" y="385" width="1" height="10" fill="#32cd32" />
<rect x="408" y="386" width="3" height="8" fill="#32cd32" />
<rect x="413" y="349" width="1" height="45" fill="#ff0000" />
<rect x="412" y="371" width="3" height="21" fill="#ff0000" />
<rect x="413" y="372" width="1" height="19" fill="#ff4500" />
<rect x="417" y="365" width="1" height="19" fill="#ff0000" />
<rect x="416" y="367" width="3" height="4" fill="#ff0000" />
<rect x="417" y="368" width="1" height="2" fill="#ff4500" />
<rect x="421" y="366" width="1" height="30" fill="#32cd32" />
<rect x="420" y="367" width="3" height="28" fill="#32cd32" />
<rect x="425" y="278" width="1" height="126" fill="#ff0000" />
<rect x="424" y="280" width="3" height="116" fill="#ff0000" />
<rect x="425" y="281" width="1" height="114" fill="#ff4500" />
<rect x="429" y="266" width="1" height="45" fill="#ff0000" />
<rect x="428" y="278" width="3" height="3" fill="#ff0000" />
<rect x="429" y="279" width="1" height="1" fill="#ff4500" />
<rect x="433" y="275" width="1" height="12" fill="#32cd32" />
<rect x="432" y="278" width="3" height="3" fill="#32cd32" />
<rect x="437" y="240" width="1" height="52" fill="#ff0000" />
<rect x="436" y="252" width="3" height="33" fill="#ff0000" />
<rect x="437" y="253" width="1" height="31" fill="#ff4500" />
<rect x="441" y="228" width="1" height="44" fill="#ff0000" />
<rect x="440" y="231" width="3" height="21" fill="#ff0000" />
<rect x="441" y="232" width="1" height="19" fill="#ff4500" />
<rect x="445" y="213" width="1" height="42" fill="#32cd32" />
<rect x="444" y="231" width="3" height="18" fill="#32cd32" />
<rect x="449" y="229" width="1" height="37" fill="#32cd32" />
<rect x="448" y="249" width="3" height="2" fill="#32cd32" />
<rect x="453" y="248" width="1" height="43" fill="#32cd32" />
<rect x="452" y="251" width="3" height="25" fill="#32cd32" />
<rect x="457" y="270" width="1" height="9" fill="#ff0000" />
<rect x="456" y="273" width="3" height="2" fill="#ff0000" />
<rect x="461" y="259" width="1" height="22" fill="#32cd32" />
<rect x="460" y="278" width="3" height="3" fill="#32cd32" />
<rect x="465" y="254" width="1" height="29" fill="#ff0000" />
<rect x="464" y="265" width="3" height="15" fill="#ff0000" />
<rect x="465" y="266" width="1" height="13" fill="#ff4500" />
<rect x="469" y="260" width="1" height="12" fill="#ff0000" />
<rect x="468" y="265" width="3" height="1" fill="#ff0000" />
<rect x="473" y="248" width="1" height="20" fill="#ff0000" />
<rect x="472" y="251" width="3" height="15" fill="#ff0000" />
<rect x="473" y="252" width="1" height="13" fill="#ff4500" />
<rect x="477" y="220" width="1" height="38" fill="#ff0000" />
<rect x="476" y="246" width="3" height="7" fill="#ff0000" />
<rect x="477" y="247" width="1" height="5" fill="#ff4500" />
<rect x="481" y="242" width="1" height="19" fill="#32cd32" />
<rect x="480" y="246" width="3" height="9" fill="#32cd32" />
<rect x="485" y="248" width="1" height="30" fill="#32cd32" />
<rect x="484" y="255" width="3" height="16" fill="#32cd32" />
<rect x="489" y="231" width="1" height="49" fill="#ff0000" />
<rect x="488" y="236" width="3" height="35" fill="#ff0000" />
<rect x="489" y="237" width="1" height="33" fill="#ff4500" />
<rect x="493" y="229" width="1" height="38" fill="#32cd32" />
<rect x="492" y="235" width="3" height="17" fill="#32cd32" />
<rect x="497" y="203" width="1" height="56" fill="#ff0000" />
<rect x="496" y="209" width="3" height="43" fill="#ff0000" />
<rect x="497" y="210" width="1" height="41" fill="#ff4500" />
<rect x="501" y="203" width="1" height="33" fill="#32cd32" />
<rect x="500" y="209" width="3" height="21" fill="#32cd32" />
<rect x="505" y="226" width="1" height="12" fill="#32cd32" />
<rect x="504" y="229" width="3" height="8" fill="#32cd32" />
<rect x="509" y="233" width="1" height="19" fill="#32cd32" />
<rect x="508" y="242" width="3" height="4" fill="#32cd32" />
<rect x="513" y="235" width="1" height="30" fill="#32cd32" />
<rect x="512" y="245" width="3" height="16" fill="#32cd32" />
<rect x="517" y="231" width="1" height="63" fill="#32cd32" />
<rect x="516" y="261" width="3" height="9" fill="#32cd32" />
<rect x="521" y="263" width="1" height="20" fill="#32cd32" />
<rect x="520" y="269" width="3" height="4" fill="#32cd32" />
<rect x="525" y="235" width="1" height="44" fill="#ff0000" />
<rect x="524" y="236" width="3" height="37" fill="#ff0000" />
<rect x="525" y="237" width="1" height="35" fill="#ff4500" />
<rect x="529" y="236" width="1" height="15" fill="#32cd32" />
<rect x="528" y="237" width="3" height="11" fill="#32cd32" />
<rect x="533" y="211" width="1" height="37" fill="#ff0000" />
<rect x="532" y="221" width="3" height="26" fill="#ff0000" />
<rect x="533" y="222" width="1" height="24" fill="#ff4500" />
<rect x="537" y="206" width="1" height="28" fill="#32cd32" />
<rect x="536" y="221" width="3" height="8" fill="#32cd32" />
<rect x="541" y="221" width="1" height="50" fill="#32cd32" />
<rect x="540" y="228" width="3" height="40" fill="#32cd32" />
<rect x="545" y="243" width="1" height="33" fill="#ff0000" />
<rect x="544" y="246" width="3" height="22" fill="#ff0000" />
<rect x="545" y="247" width="1" height="20" fill="#ff4500" />
<rect x="549" y="227" width="1" height="33" fill="#ff0000" />
<rect x="548" y="234" width="3" height="13" fill="#ff0000" />
<rect x="549" y="235" width="1" height="11" fill="#ff4500" />
<rect x="553" y="234" width="1" height="16" fill="#32cd32" />
<rect x="552" y="234" width="3" height="14" fill="#32cd32" />
<rect x="557" y="213" width="1" height="35" fill="#ff0000" />
<rect x="556" y="236" width="3" height="11" fill="#ff0000" />
<rect x="557" y="237" width="1" height="9" fill="#ff4500" />
<rect x="561" y="156" width="1" height="90" fill="#ff0000" />
<rect x="560" y="160" width="3" height="77" fill="#ff0000" />
<rect x="561" y="161" width="1" height="75" fill="#ff4500" />
<rect x="565" y="150" width="1" height="62" fill="#32cd32" />
<rect x="564" y="161" width="3" height="39" fill="#32cd32" />
<rect x="569" y="183" width="1" height="101" fill="#32cd32" />
<rect x="568" y="199" width="3" height="80" fill="#32cd32" />
<rect x="573" y="252" width="1" height="41" fill="#ff0000" />
<rect x="572" y="269" width="3" height="10" fill="#ff0000" />
<rect x="573" y="270" width="1" height="8" fill="#ff4500" />
<rect x="577" y="261" width="1" height="15" fill="#ff0000" />
<rect x="576" y="266" width="3" height="4" fill="#ff0000" />
<rect x="577" y="267" width="1" height="2" fill="#ff4500" />
<rect x="581" y="253" width="1" height="25" fill="#32cd32" />
<rect x="580" y="265" width="3" height="3" fill="#32cd32" />
<rect x="585" y="259" width="1" height="17" fill="#ff0000" />
<rect x="584" y="264" width="3" height="4" fill="#ff0000" />
<rect x="585" y="265" width="1" height="2" fill="#ff4500" />
<rect x="589" y="260" width="1" height="29" fill="#32cd32" />
<rect x="588" y="264" width="3" height="10" fill="#32cd32" />
<rect x="593" y="265" width="1" height="22" fill="#32cd32" />
<rect x="592" y="272" width="3" height="9" fill="#32cd32" />
<rect x="597" y="232" width="1" height="51" fill="#ff0000" />
<rect x="596" y="238" width="3" height="43" fill="#ff0000" />
<rect x="597" y="239" width="1" height="41" fill="#ff4500" />
<rect x="601" y="235" width="1" height="10" fill="#32cd32" />
<rect x="600" y="238" width="3" height="6" fill="#32cd32" />
<rect x="605" y="225" width="1" height="18" fill="#ff0000" />
<rect x="604" y="231" width="3" height="6" fill="#ff0000" />
<rect x="605" y="232" width="1" height="4" fill="#ff4500" />
<rect x="609" y="222" width="1" height="20" fill="#ff0000" />
<rect x="608" y="227" width="3" height="5" fill="#ff0000" />
<rect x="609" y="228" width="1" height="3" fill="#ff4500" />
<rect x="613" y="216" width="1" height="30" fill="#32cd32" />
<rect x="612" y="227" width="3" height="18" fill="#32cd32" />
<rect x="617" y="236" width="1" height="18" fill="#32cd32" />
<rect x="616" y="245" width="3" height="1" fill="#32cd32" />
<rect x="621" y="230" width="1" height="18" fill="#ff0000" />
<rect x="620" y="243" width="3" height="4" fill="#ff0000" />
<rect x="621" y="244" width="1" height="2" fill="#ff4500" />
<rect x="625" y="242" width="1" height="7" fill="#32cd32" />
<rect x="624" y="243" width="3" height="6" fill="#32cd32" />
<rect x="629" y="237" width="1" height="14" fill="#32cd32" />
<rect x="628" y="239" width="3" height="9" fill="#32cd32" />
<rect x="633" y="212" width="1" height="42" fill="#ff0000" />
<rect x="632" y="212" width="3" height="36" fill="#ff0000" />
<rect x="633" y="213" width="1" height="34" fill="#ff4500" />
<rect x="637" y="208" width="1" height="30" fill="#32cd32" />
<rect x="636" y="212" width="3" height="18" fill="#32cd32" />
<rect x="641" y="196" width="1" height="44" fill="#ff0000" />
<rect x="640" y="208" width="3" height="21" fill="#ff0000" />
<rect x="641" y="209" width="1" height="19" fill="#ff4500" />
<rect x="645" y="185" width="1" height="26" fill="#ff0000" />
<rect x="644" y="195" width="3" height="14" fill="#ff0000" />
<rect x="645" y="196" width="1" height="12" fill="#ff4500" />
<rect x="649" y="195" width="1" height="11" fill="#32cd32" />
<rect x="648" y="195" width="3" height="11" fill="#32cd32" />
<rect x="653" y="201" width="1" height="36" fill="#32cd32" />
<rect x="652" y="201" width="3" height="35" fill="#32cd32" />
<rect x="657" y="229" width="1" height="38" fill="#32cd32" />
<rect x="656" y="235" width="3" height="22" fill="#32cd32" />
<rect x="661" y="239" width="1" height="24" fill="#ff0000" />
<rect x="660" y="256" width="3" height="1" fill="#ff0000" />
<rect x="665" y="231" width="1" height="32" fill="#ff0000" />
<rect x="664" y="238" width="3" height="19" fill="#ff0000" />
<rect x="665" y="239" width="1" height="17" fill="#ff4500" />
<rect x="669" y="227" width="1" height="45" fill="#32cd32" />
<rect x="668" y="238" width="3" height="33" fill="#32cd32" />
<rect x="673" y="267" width="1" height="11" fill="#32cd32" />
<rect x="672" y="270" width="3" height="3" fill="#32cd32" />
<rect x="677" y="260" width="1" height="13" fill="#ff0000" />
<rect x="676" y="268" width="3" height="3" fill="#ff0000" />
<rect x="677" y="269" width="1" height="1" fill="#ff4500" />
<rect x="681" y="254" width="1" height="46" fill="#32cd32" />
<rect x="680" y="268" width="3" height="18" fill="#32cd32" />
<rect x="685" y="268" width="1" height="30" fill="#32cd32" />
<rect x="684" y="284" width="3" height="13" fill="#32cd32" />
<rect x="689" y="277" width="1" height="23" fill="#ff0000" />
<rect x="688" y="296" width="3" height="1" fill="#ff0000" />
<rect x="693" y="281" width="1" height="61" fill="#32cd32" />
<rect x="692" y="296" width="3" height="22" fill="#32cd32" />
<rect x="697" y="314" width="1" height="11" fill="#ff0000" />
<rect x="696" y="316" width="3" height="2" fill="#ff0000" />
<rect x="701" y="284" width="1" height="32" fill="#ff0000" />
<rect x="700" y="291" width="3" height="25" fill="#ff0000" />
<rect x="701" y="292" width="1" height="23" fill="#ff4500" />
<rect x="705" y="267" width="1" height="33" fill="#ff0000" />
<rect x="704" y="277" width="3" height="16" fill="#ff0000" />
<rect x="705" y="278" width="1" height="14" fill="#ff4500" />
<rect x="709" y="270" width="1" height="14" fill="#32cd32" />
<rect x="708" y="277" width="3" height="1" fill="#32cd32" />
<rect x="713" y="271" width="1" height="28" fill="#32cd32" />
<rect x="712" y="277" width="3" height="18" fill="#32cd32" />
<rect x="717" y="285" width="1" height="53" fill="#32cd32" />
<rect x="716" y="295" width="3" height="19" fill="#32cd32" />
<rect x="721" y="307" width="1" height="11" fill="#ff0000" />
<rect x="720" y="308" width="3" height="6" fill="#ff0000" />
<rect x="721" y="309" width="1" height="4" fill="#ff4500" />
<rect x="725" y="287" width="1" height="25" fill="#ff0000" />
<rect x="724" y="308" width="3" height="4" fill="#ff0000" />
<rect x="725" y="309" width="1" height="2" fill="#ff4500" />
<rect x="729" y="299" width="1" height="33" fill="#32cd32" />
<rect x="728" y="308" width="3" height="18" fill="#32cd32" />
<rect x="733" y="306" width="1" height="33" fill="#32cd32" />
<rect x="732" y="325" width="3" height="11" fill="#32cd32" />
<rect x="737" y="286" width="1" height="55" fill="#ff0000" />
<rect x="736" y="291" width="3" height="45" fill="#ff0000" />
<rect x="737" y="292" width="1" height="43" fill="#ff4500" />
<rect x="741" y="257" width="1" height="48" fill="#ff0000" />
<rect x="740" y="261" width="3" height="30" fill="#ff0000" />
<rect x="741" y="262" width="1" height="28" fill="#ff4500" />
<rect x="745" y="254" width="1" height="10" fill="#ff0000" />
<rect x="744" y="258" width="3" height="4" fill="#ff0000" />
<rect x="745" y="259" width="1" height="2" fill="#ff4500" />
<rect x="749" y="225" width="1" height="33" fill="#ff0000" />
<rect x="748" y="235" width="3" height="17" fill="#ff0000" />
<rect x="749" y="236" width="1" height="15" fill="#ff4500" />
<rect x="753" y="225" width="1" height="30" fill="#ff0000" />
<rect x="752" y="234" width="3" height="2" fill="#ff0000" />
<rect x="757" y="227" width="1" height="56" fill="#32cd32" />
<rect x="756" y="234" width="3" height="47" fill="#32cd32" />
<rect x="761" y="248" width="1" height="43" fill="#ff0000" />
<rect x="760" y="270" width="3" height="11" fill="#ff0000" />
<rect x="761" y="271" width="1" height="9" fill="#ff4500" />
<rect x="765" y="253" width="1" height="28" fill="#32cd32" />
<rect x="764" y="271" width="3" height="3" fill="#32cd32" />
<rect x="769" y="265" width="1" height="13" fill="#ff0000" />
<rect x="768" y="268" width="3" height="6" fill="#ff0000" />
<rect x="769" y="269" width="1" height="4" fill="#ff4500" />
<rect x="773" y="259" width="1" height="29" fill="#32cd32" />
<rect x="772" y="274" width="3" height="5" fill="#32cd32" />
<rect x="777" y="266" width="1" height="23" fill="#ff0000" />
<rect x="776" y="269" width="3" height="9" fill="#ff0000" />
<rect x="777" y="270" width="1" height="7" fill="#ff4500" />
<rect x="781" y="243" width="1" height="31" fill="#ff0000" />
<rect x="780" y="249" width="3" height="20" fill="#ff0000" />
<rect x="781" y="250" width="1" height="18" fill="#ff4500" />
<rect x="785" y="240" width="1" height="63" fill="#32cd32" />
<rect x="784" y="249" width="3" height="42" fill="#32cd32" />
<rect x="789" y="272" width="1" height="62" fill="#32cd32" />
<rect x="788" y="290" width="3" height="37" fill="#32cd32" />
<rect x="793" y="325" width="1" height="9" fill="#32cd32" />
<rect x="792" y="327" width="3" height="1" fill="#32cd32" />
<rect x="797" y="278" width="1" height="35" fill="#ff0000" />
<rect x="796" y="293" width="3" height="16" fill="#ff0000" />
<rect x="797" y="294" width="1" height="14" fill="#ff4500" />
<rect x="801" y="276" width="1" height="33" fill="#32cd32" />
<rect x="800" y="293" width="3" height="10" fill="#32cd32" />
<rect x="805" y="257" width="1" height="50" fill="#ff0000" />
<rect x="804" y="276" width="3" height="27" fill="#ff0000" />
<rect x="805" y="277" width="1" height="25" fill="#ff4500" />
<rect x="809" y="274" width="1" height="24" fill="#32cd32" />
<rect x="808" y="276" width="3" height="18" fill="#32cd32" />
<rect x="813" y="282" width="1" height="28" fill="#32cd32" />
<rect x="812" y="293" width="3" height="7" fill="#32cd32" />
<rect x="817" y="294" width="1" height="12" fill="#32cd32" />
<rect x="816" y="299" width="3" height="7" fill="#32cd32" />
<rect x="821" y="283" width="1" height="39" fill="#ff0000" />
<rect x="820" y="283" width="3" height="20" fill="#ff0000" />
<rect x="821" y="284" width="1" height="18" fill="#ff4500" />
<rect x="825" y="268" width="1" height="29" fill="#32cd32" />
<rect x="824" y="284" width="3" height="8" fill="#32cd32" />
<rect x="829" y="281" width="1" height="55" fill="#32cd32" />
<rect x="828" y="290" width="3" height="42" fill="#32cd32" />
<rect x="833" y="312" width="1" height="29" fill="#ff0000" />
<rect x="832" y="321" width="3" height="11" fill="#ff0000" />
<rect x="833" y="322" width="1" height="9" fill="#ff4500" />
<rect x="837" y="314" width="1" height="31" fill="#ff0000" />
<rect x="836" y="319" width="3" height="3" fill="#ff0000" />
<rect x="837" y="320" width="1" height="1" fill="#ff4500" />
<rect x="841" y="319" width="1" height="5" fill="#32cd32" />
<rect x="840" y="319" width="3" height="5" fill="#32cd32" />
<rect x="845" y="314" width="1" height="26" fill="#32cd32" />
<rect x="844" y="326" width="3" height="13" fill="#32cd32" />
<rect x="849" y="329" width="1" height="107" fill="#32cd32" />
<rect x="848" y="338" width="3" height="93" fill="#32cd32" />
<rect x="853" y="395" width="1" height="47" fill="#ff0000" />
<rect x="852" y="399" width="3" height="32" fill="#ff0000" />
<rect x="853" y="400" width="1" height="30" fill="#ff4500" />
<rect x="857" y="385" width="1" height="31" fill="#32cd32" />
<rect x="856" y="399" width="3" height="8" fill="#32cd32" />
<rect x="861" y="388" width="1" height="39" fill="#32cd32" />
<rect x="860" y="406" width="3" height="6" fill="#32cd32" />
<rect x="865" y="407" width="1" height="11" fill="#32cd32" />
<rect x="864" y="410" width="3" height="4" fill="#32cd32" />
<rect x="869" y="406" width="1" height="25" fill="#32cd32" />
<rect x="868" y="416" width="3" height="1" fill="#32cd32" />
<rect x="873" y="410" width="1" height="20" fill="#32cd32" />
<rect x="872" y="416" width="3" height="2" fill="#32cd32" />
<rect x="877" y="391" width="1" height="39" fill="#ff0000" />
<rect x="876" y="400" width="3" height="18" fill="#ff0000" />
<rect x="877" y="401" width="1" height="16" fill="#ff4500" />
<rect x="881" y="377" width="1" height="31" fill="#32cd32" />
<rect x="880" y="400" width="3" height="5" fill="#32cd32" />
<rect x="885" y="371" width="1" height="47" fill="#ff0000" />
<rect x="884" y="372" width="3" height="33" fill="#ff0000" />
<rect x="885" y="373" width="1" height="31" fill="#ff4500" />
<rect x="889" y="366" width="1" height="8" fill="#ff0000" />
<rect x="888" y="370" width="3" height="4" fill="#ff0000" />
<rect x="889" y="371" width="1" height="2" fill="#ff4500" />
<rect x="893" y="368" width="1" height="31" fill="#32cd32" />
<rect x="892" y="371" width="3" height="24" fill="#32cd32" />
<rect x="897" y="383" width="1" height="17" fill="#ff0000" />
<rect x="896" y="384" width="3" height="11" fill="#ff0000" />
<rect x="897" y="385" width="1" height="9" fill="#ff4500" />
<rect x="901" y="373" width="1" height="27" fill="#ff0000" />
<rect x="900" y="380" width="3" height="5" fill="#ff0000" />
<rect x="901" y="381" width="1" height="3" fill="#ff4500" />
<rect x="905" y="374" width="1" height="28" fill="#32cd32" />
<rect x="904" y="380" width="3" height="9" fill="#32cd32" />
<rect x="909" y="371" width="1" height="24" fill="#32cd32" />
<rect x="908" y="388" width="3" height="1" fill="#32cd32" />
<rect x="913" y="387" width="1" height="8" fill="#ff0000" />
<rect x="912" y="388" width="3" height="1" fill="#ff0000" />
<rect x="917" y="386" width="1" height="22" fill="#32cd32" />
<rect x="916" y="388" width="3" height="18" fill="#32cd32" />
<rect x="921" y="389" width="1" height="24" fill="#ff0000" />
<rect x="920" y="397" width="3" height="9" fill="#ff0000" />
<rect x="921" y="398" width="1" height="7" fill="#ff4500" />
<rect x="925" y="393" width="1" height="19" fill="#32cd32" />
<rect x="924" y="398" width="3" height="6" fill="#32cd32" />
</g>
<rect x="4" y="523" width="3" height="28" fill="#c0c0c0" />
<rect x="8" y="523" width="3" height="28" fill="#c0c0c0" />
<rect x="12" y="523" width="3" height="23" fill="#c0c0c0" />
<rect x="16" y="523" width="3" height="18" fill="#c0c0c0" />
<rect x="20" y="523" width="3" height="15" fill="#c0c0c0" />
<rect x="24" y="523" width="3" height="12" fill="#c0c0c0" />
<rect x="28" y="523" width="3" height="7" fill="#c0c0c0" />
<rect x="32" y="523" width="3" height="5" fill="#c0c0c0" />
<rect x="36" y="523" width="3" height="5" fill="#c0c0c0" />
<rect x="40" y="523" width="3" height="3" fill="#c0c0c0" />
<rect x="44" y="522" width="3" height="1" fill="#c0c0c0" />
<rect x="48" y="519" width="3" height="4" fill="#c0c0c0" />
<rect x="52" y="519" width="3" height="4" fill="#c0c0c0" />
<rect x="56" y="517" width="3" height="6" fill="#c0c0c0" />
<rect x="60" y="517" width="3" height="6" fill="#c0c0c0" />
<rect x="64" y="516" width="3" height="7" fill="#c0c0c0" />
<rect x="68" y="511" width="3" height="12" fill="#c0c0c0" />
<rect x="72" y="507" width="3" height="16" fill="#c0c0c0" />
<rect x="76" y="500" width="3" height="23" fill="#c0c0c0" />
<rect x="80" y="498" width="3" height="25" fill="#c0c0c0" />
<rect x="84" y="498" width="3" height="25" fill="#c0c0c0" />
<rect x="88" y="501" width="3" height="22" fill="#c0c0c0" />
<rect x="92" y="502" width="3" height="21" fill="#c0c0c0" />
<rect x="96" y="504" width="3" height="19" fill="#c0c0c0" />
<rect x="100" y="505" width="3" height="18" fill="#c0c0c0" />
<rect x="104" y="506" width="3" height="17" fill="#c0c0c0" />
<rect x="108" y="506" width="3" height="17" fill="#c0c0c0" />
<rect x="112" y="507" width="3" height="16" fill="#c0c0c0" />
<rect x="116" y="507" width="3" height="16" fill="#c0c0c0" />
<rect x="120" y="507" width="3" height="16" fill="#c0c0c0" />
<rect x="124" y="508" width="3" height="15" fill="#c0c0c0" />
<rect x="128" y="508" width="3" height="15" fill="#c0c0c0" />
<rect x="132" y="506" width="3" height="17" fill="#c0c0c0" />
<rect x="136" y="503" width="3" height="20" fill="#c0c0c0" />
<rect x="140" y="501" width="3" height="22" fill="#c0c0c0" />
<rect x="144" y="500" width="3" height="23" fill="#c0c0c0" />
<rect x="148" y="497" width="3" height="26" fill="#c0c0c0" />
<rect x="152" y="495" width="3" height="28" fill="#c0c0c0" />
<rect x="156" y="493" width="3" height="30" fill="#c0c0c0" />
<rect x="160" y="491" width="3" height="32" fill="#c0c0c0" />
<rect x="164" y="489" width="3" height="34" fill="#c0c0c0" />
<rect x="168" y="489" width="3" height="34" fill="#c0c0c0" />
<rect x="172" y="491" width="3" height="32" fill="#c0c0c0" />
<rect x="176" y="495" width="3" height="28" fill="#c0c0c0" />
<rect x="180" y="498" width="3" height="25" fill="#c0c0c0" />
<rect x="184" y="499" width="3" height="24" fill="#c0c0c0" />
<rect x="188" y="500" width="3" height="23" fill="#c0c0c0" />
<rect x="192" y="501" width="3" height="22" fill="#c0c0c0" />
<rect x="196" y="503" width="3" height="20" fill="#c0c0c0" />
<rect x="200" y="505" width="3" height="18" fill="#c0c0c0" />
<rect x="204" y="510" width="3" height="13" fill="#c0c0c0" />
<rect x="208" y="513" width="3" height="10" fill="#c0c0c0" />
<rect x="212" y="516" width="3" height="7" fill="#c0c0c0" />
<rect x="216" y="519" width="3" height="4" fill="#c0c0c0" />
<rect x="220" y="522" width="3" height="1" fill="#c0c0c0" />
<rect x="224" y="523" width="3" height="5" fill="#c0c0c0" />
<rect x="228" y="523" width="3" height="9" fill="#c0c0c0" />
<rect x="232" y="523" width="3" height="13" fill="#c0c0c0" />
<rect x="236" y="523" width="3" height="15" fill="#c0c0c0" />
<rect x="240" y="523" width="3" height="16" fill="#c0c0c0" />
<rect x="244" y="523" width="3" height="19" fill="#c0c0c0" />
<rect x="248" y="523" width="3" height="21" fill="#c0c0c0" />
<rect x="252" y="523" width="3" height="23" fill="#c0c0c0" />
<rect x="256" y="523" width="3" height="24" fill="#c0c0c0" />
<rect x="260" y="523" width="3" height="25" fill="#c0c0c0" />
<rect x="264" y="523" width="3" height="26" fill="#c0c0c0" />
<rect x="268" y="523" width="3" height="26" fill="#c0c0c0" />
<rect x="272" y="523" width="3" height="23" fill="#c0c0c0" />
<rect x="276" y="523" width="3" height="23" fill="#c0c0c0" />
<rect x="280" y="523" width="3" height="24" fill="#c0c0c0" />
<rect x="284" y="523" width="3" height="29" fill="#c0c0c0" />
<rect x="288" y="523" width="3" height="33" fill="#c0c0c0" />
<rect x="292" y="523" width="3" height="36" fill="#c0c0c0" />
<rect x="296" y="523" width="3" height="38" fill="#c0c0c0" />
<rect x="300" y="523" width="3" height="34" fill="#c0c0c0" />
<rect x="304" y="523" width="3" height="30" fill="#c0c0c0" />
<rect x="308" y="523" width="3" height="30" fill="#c0c0c0" />
<rect x="312" y="523" width="3" height="30" fill="#c0c0c0" />
<rect x="316" y="523" width="3" height="28" fill="#c0c0c0" />
<rect x="320" y="523" width="3" height="28" fill="#c0c0c0" />
<rect x="324" y="523" width="3" height="28" fill="#c0c0c0" />
<rect x="328" y="523" width="3" height="27" fill="#c0c0c0" />
<rect x="332" y="523" width="3" height="25" fill="#c0c0c0" />
<rect x="336" y="523" width="3" height="23" fill="#c0c0c0" />
<rect x="340" y="523" width="3" height="25" fill="#c0c0c0" />
<rect x="344" y="523" width="3" height="27" fill="#c0c0c0" />
<rect x="348" y="523" width="3" height="31" fill="#c0c0c0" />
<rect x="352" y="523" width="3" height="34" fill="#c0c0c0" />
<rect x="356" y="523" width="3" height="38" fill="#c0c0c0" />
<rect x="360" y="523" width="3" height="41" fill="#c0c0c0" />
<rect x="364" y="523" width="3" height="42" fill="#c0c0c0" />
<rect x="368" y="523" width="3" height="40" fill="#c0c0c0" />
<rect x="372" y="523" width="3" height="39" fill="#c0c0c0" />
<rect x="376" y="523" width="3" height="36" fill="#c0c0c0" />
<rect x="380" y="523" width="3" height="33" fill="#c0c0c0" />
<rect x="384" y="523" width="3" height="32" fill="#c0c0c0" />
<rect x="388" y="523" width="3" height="29" fill="#c0c0c0" />
<rect x="392" y="523" width="3" height="27" fill="#c0c0c0" />
<rect x="396" y="523" width="3" height="25" fill="#c0c0c0" />
<rect x="400" y="523" width="3" height="23" fill="#c0c0c0" />
<rect x="404" y="523" width="3" height="21" fill="#c0c0c0" />
<rect x="408" y="523" width="3" height="20" fill="#c0c0c0" />
<rect x="412" y="523" width="3" height="17" fill="#c0c0c0" />
<rect x="416" y="523" width="3" height="15" fill="#c0c0c0" />
<rect x="420" y="523" width="3" height="13" fill="#c0c0c0" />
<rect x="424" y="523" width="3" height="5" fill="#c0c0c0" />
<rect x="428" y="520" width="3" height="3" fill="#c0c0c0" />
<rect x="432" y="516" width="3" height="7" fill="#c0c0c0" />
<rect x="436" y="510" width="3" height="13" fill="#c0c0c0" />
<rect x="440" y="504" width="3" height="19" fill="#c0c0c0" />
<rect x="444" y="501" width="3" height="22" fill="#c0c0c0" />
<rect x="448" y="499" width="3" height="24" fill="#c0c0c0" />
<rect x="452" y="499" width="3" height="24" fill="#c0c0c0" />
<rect x="456" y="500" width="3" height="23" fill="#c0c0c0" />
<rect x="460" y="501" width="3" height="22" fill="#c0c0c0" />
<rect x="464" y="501" width="3" height="22" fill="#c0c0c0" />
<rect x="468" y="502" width="3" height="21" fill="#c0c0c0" />
<rect x="472" y="501" width="3" height="22" fill="#c0c0c0" />
<rect x="476" y="500" width="3" height="23" fill="#c0c0c0" />
<rect x="480" y="500" width="3" height="23" fill="#c0c0c0" />
<rect x="484" y="501" width="3" height="22" fill="#c0c0c0" />
<rect x="488" y="501" width="3" height="22" fill="#c0c0c0" />
<rect x="492" y="501" width="3" height="22" fill="#c0c0c0" />
<rect x="496" y="500" width="3" height="23" fill="#c0c0c0" />
<rect x="500" y="500" width="3" height="23" fill="#c0c0c0" />
<rect x="504" y="501" width="3" height="22" fill="#c0c0c0" />
<rect x="508" y="503" width="3" height="20" fill="#c0c0c0" />
<rect x="512" y="505" width="3" height="18" fill="#c0c0c0" />
<rect x="516" y="508" width="3" height="15" fill="#c0c0c0" />
<rect x="520" y="510" width="3" height="13" fill="#c0c0c0" />
<rect x="524" y="510" width="3" height="13" fill="#c0c0c0" />
<rect x="528" y="510" width="3" height="13" fill="#c0c0c0" />
<rect x="532" y="509" width="3" height="14" fill="#c0c0c0" />
<rect x="536" y="509" width="3" height="14" fill="#c0c0c0" />
<rect x="540" y="512" width="3" height="11" fill="#c0c0c0" />
<rect x="544" y="512" width="3" height="11" fill="#c0c0c0" />
<rect x="548" y="512" width="3" height="11" fill="#c0c0c0" />
<rect x="552" y="513" width="3" height="10" fill="#c0c0c0" />
<rect x="556" y="513" width="3" height="10" fill="#c0c0c0" />
<rect x="560" y="508" width="3" height="15" fill="#c0c0c0" />
<rect x="564" y="507" width="3" height="16" fill="#c0c0c0" />
<rect x="568" y="511" width="3" height="12" fill="#c0c0c0" />
<rect x="572" y="515" width="3" height="8" fill="#c0c0c0" />
<rect x="576" y="517" width="3" height="6" fill="#c0c0c0" />
<rect x="580" y="519" width="3" height="4" fill="#c0c0c0" />
<rect x="584" y="521" width="3" height="2" fill="#c0c0c0" />
<rect x="588" y="522" width="3" height="1" fill="#c0c0c0" />
<rect x="592" y="523" width="3" height="2" fill="#c0c0c0" />
<rect x="596" y="523" width="3" height="1" fill="#c0c0c0" />
<rect x="600" y="522" width="3" height="1" fill="#c0c0c0" />
<rect x="604" y="521" width="3" height="2" fill="#c0c0c0" />
<rect x="608" y="519" width="3" height="4" fill="#c0c0c0" />
<rect x="612" y="519" width="3" height="4" fill="#c0c0c0" />
<rect x="616" y="520" width="3" height="3" fill="#c0c0c0" />
<rect x="620" y="520" width="3" height="3" fill="#c0c0c0" />
<rect x="624" y="520" width="3" height="3" fill="#c0c0c0" />
<rect x="628" y="520" width="3" height="3" fill="#c0c0c0" />
<rect x="632" y="518" width="3" height="5" fill="#c0c0c0" />
<rect x="636" y="518" width="3" height="5" fill="#c0c0c0" />
<rect x="640" y="516" width="3" height="7" fill="#c0c0c0" />
<rect x="644" y="514" width="3" height="9" fill="#c0c0c0" />
<rect x="648" y="513" width="3" height="10" fill="#c0c0c0" />
<rect x="652" y="515" width="3" height="8" fill="#c0c0c0" />
<rect x="656" y="518" width="3" height="5" fill="#c0c0c0" />
<rect x="660" y="519" width="3" height="4" fill="#c0c0c0" />
<rect x="664" y="520" width="3" height="3" fill="#c0c0c0" />
<rect x="668" y="522" width="3" height="1" fill="#c0c0c0" />
<rect x="672" y="523" width="3" height="3" fill="#c0c0c0" />
<rect x="676" y="523" width="3" height="4" fill="#c0c0c0" />
<rect x="680" y="523" width="3" height="6" fill="#c0c0c0" />
<rect x="684" y="523" width="3" height="8" fill="#c0c0c0" />
<rect x="688" y="523" width="3" height="10" fill="#c0c0c0" />
<rect x="692" y="523" width="3" height="13" fill="#c0c0c0" />
<rect x="696" y="523" width="3" height="15" fill="#c0c0c0" />
<rect x="700" y="523" width="3" height="14" fill="#c0c0c0" />
<rect x="704" y="523" width="3" height="13" fill="#c0c0c0" />
<rect x="708" y="523" width="3" height="12" fill="#c0c0c0" />
<rect x="712" y="523" width="3" height="12" fill="#c0c0c0" />
<rect x="716" y="523" width="3" height="13" fill="#c0c0c0" />
<rect x="720" y="523" width="3" height="13" fill="#c0c0c0" />
<rect x="724" y="523" width="3" height="14" fill="#c0c0c0" />
<rect x="728" y="523" width="3" height="15" fill="#c0c0c0" />
<rect x="732" y="523" width="3" height="16" fill="#c0c0c0" />
<rect x="736" y="523" width="3" height="14" fill="#c0c0c0" />
<rect x="740" y="523" width="3" height="11" fill="#c0c0c0" />
<rect x="744" y="523" width="3" height="7" fill="#c0c0c0" />
<rect x="748" y="523" width="3" height="3" fill="#c0c0c0" />
<rect x="752" y="522" width="3" height="1" fill="#c0c0c0" />
<rect x="756" y="522" width="3" height="1" fill="#c0c0c0" />
<rect x="760" y="522" width="3" height="1" fill="#c0c0c0" />
<rect x="764" y="522" width="3" height="1" fill="#c0c0c0" />
<rect x="768" y="522" width="3" height="1" fill="#c0c0c0" />
<rect x="772" y="522" width="3" height="1" fill="#c0c0c0" />
<rect x="776" y="522" width="3" height="1" fill="#c0c0c0" />
<rect x="780" y="520" width="3" height="3" fill="#c0c0c0" />
<rect x="784" y="523" width="3" height="1" fill="#c0c0c0" />
<rect x="788" y="523" width="3" height="4" fill="#c0c0c0" />
<rect x="792" y="523" width="3" height="6" fill="#c0c0c0" />
<rect x="796" y="523" width="3" height="6" fill="#c0c0c0" />
<rect x="800" y="523" width="3" height="7" fill="#c0c0c0" />
<rect x="804" y="523" width="3" height="5" fill="#c0c0c0" />
<rect x="808" y="523" width="3" height="5" fill="#c0c0c0" />
<rect x="812" y="523" width="3" height="6" fill="#c0c0c0" />
<rect x="816" y="523" width="3" height="6" fill="#c0c0c0" />
<rect x="820" y="523" width="3" height="6" fill="#c0c0c0" />
<rect x="824" y="523" width="3" height="7" fill="#c0c0c0" />
<rect x="828" y="523" width="3" height="7" fill="#c0c0c0" />
<rect x="832" y="523" width="3" height="8" fill="#c0c0c0" />
<rect x="836" y="523" width="3" height="9" fill="#c0c0c0" />
<rect x="840" y="523" width="3" height="10" fill="#c0c0c0" />
<rect x="844" y="523" width="3" height="11" fill="#c0c0c0" />
<rect x="848" y="523" width="3" height="18" fill="#c0c0c0" />
<rect x="852" y="523" width="3" height="21" fill="#c0c0c0" />
<rect x="856" y="523" width="3" height="24" fill="#c0c0c0" />
<rect x="860" y="523" width="3" height="26" fill="#c0c0c0" />
<rect x="864" y="523" width="3" height="28" fill="#c0c0c0" />
<rect x="868" y="523" width="3" height="29" fill="#c0c0c0" />
<rect x="872" y="523" width="3" height="30" fill="#c0c0c0" />
<rect x="876" y="523" width="3" height="29" fill="#c0c0c0" />
<rect x="880" y="523" width="3" height="28" fill="#c0c0c0" />
<rect x="884" y="523" width="3" height="25" fill="#c0c0c0" />
<rect x="888" y="523" width="3" height="22" fill="#c0c0c0" />
<rect x="892" y="523" width="3" height="21" fill="#c0c0c0" />
<rect x="896" y="523" width="3" height="20" fill="#c0c0c0" />
<rect x="900" y="523" width="3" height="18" fill="#c0c0c0" />
<rect x="904" y="523" width="3" height="17" fill="#c0c0c0" />
<rect x="908" y="523" width="3" height="16" fill="#c0c0c0" />
<rect x="912" y="523" width="3" height="15" fill="#c0c0c0" />
<rect x="916" y="523" width="3" height="16" fill="#c0c0c0" />
<rect x="920" y="523" width="3" height="16" fill="#c0c0c0" />
<rect x="924" y="523" width="3" height="15" fill="#c0c0c0" />
<path d="M5.5 542v1M6.5 543v1M7.5 543v1M8.5 544v1M9.5 544v1M10.5 545v1M11.5 545v1M12.5 545v1M13.5 545v1M14.5 546v1M15.5 546v1M16.5 546v1M17.5 546v1M18.5 546v1M19.5 546v1M20.5 545v1M21.5 545v1M22.5 545v1M23.5 545v1M24.5 544v1M25.5 544v1M26.5 544v1M27.5 543v1M28.5 543v1M29.5 542v1M30.5 542v1M31.5 541v1M32.5 541v1M33.5 540v1M34.5 540v1M35.5 539v1M36.5 539v1M37.5 538v1M38.5 537v1M39.5 536v1M40.5 535v1M41.5 535v1M42.5 534v1M43.5 533v1M44.5 532v1M45.5 531v1M46.5 531v1M47.5 530v1M48.5 529v1M49.5 529v1M50.5 528v1M51.5 528v1M52.5 527v1M53.5 526v1M54.5 526v1M55.5 525v1M56.5 525v1M57.5 524v1M58.5 524v1M59.5 523v1M60.5 523v1M61.5 522v1M62.5 522v1M63.5 521v1M64.5 521v1M65.5 520v1M66.5 520v1M67.5 519v1M68.5 519v1M69.5 518v1M70.5 518v1M71.5 517v1M72.5 517v1M73.5 516v1M74.5 516v1M75.5 515v1M76.5 514v1M77.5 514v1M78.5 513v1M79.5 513v1M80.5 512v1M81.5 511v1M82.5 511v1M83.5 510v1M84.5 509v1M85.5 509v1M86.5 508v1M87.5 508v1M88.5 507v1M89.5 507v1M90.5 506v1M91.5 506v1M92.5 506v1M93.5 506v1M94.5 505v1M95.5 505v1M96.5 505v1M97.5 505v1M98.5 504v1M99.5 504v1M100.5 503v1M101.5 503v1M102.5 503v1M103.5 502v1M104.5 502v1M105.5 502v1M106.5 502v1M107.5 502v1M108.5 502v1M109.5 502v1M110.5 502v1M111.5 502v1M112.5 503v1M113.5 503v1M114.5 503v1M115.5 503v1M116.5 504v1M117.5 504v1M118.5 504v1M119.5 504v1M120.5 505v1M121.5 505v1M122.5 505v1M123.5 505v1M124.5 506v1M125.5 506v1M126.5 506v1M127.5 506v1M128.5 506v1M129.5 506v1M130.5 507v1M131.5 507v1M132.5 507v1M133.5 507v1M134.5 507v1M135.5 507v1M136.5 507v1M137.5 507v1M138.5 506v1M139.5 506v1M140.5 506v1M141.5 506v1M142.5 506v1M143.5 506v1M144.5 505v1M145.5 505v1M146.5 505v1M147.5 504v1M148.5 504v1M149.5 504v1M150.5 504v1M151.5 503v1M152.5 503v1M153.5 503v1M154.5 502v1M155.5 502v1M156.5 501v1M157.5 501v1M158.5 501v1M159.5 500v1M160.5 500v1M161.5 499v1M162.5 499v1M163.5 498v1M164.5 498v1M165.5 497v1M166.5 497v1M167.5 496v1M168.5 496v1M169.5 496v1M170.5 495v1M171.5 495v1M172.5 494v1M173.5 494v1M174.5 494v1M175.5 493v1M176.5 493v1M177.5 493v1M178.5 493v1M179.5 493v1M180.5 493v1M181.5 493v1M182.5 493v1M183.5 493v1M184.5 493v1M185.5 493v1M186.5 493v1M187.5 493v1M188.5 493v1M189.5 494v1M190.5 494v1M191.5 494v1M192.5 494v1M193.5 494v1M194.5 495v1M195.5 495v1M196.5 495v1M197.5 496v1M198.5 496v1M199.5 497v1M200.5 497v1M201.5 498v1M202.5 498v1M203.5 499v1M204.5 499v1M205.5 500v1M206.5 500v1M207.5 501v1M208.5 502v1M209.5 502v1M210.5 503v1M211.5 503v1M212.5 504v1M213.5 505v1M214.5 505v1M215.5 506v1M216.5 507v1M217.5 507v1M218.5 508v1M219.5 508v1M220.5 509v1M221.5 510v1M222.5 511v1M223.5 511v1M224.5 512v1M225.5 513v1M226.5 514v1M227.5 514v1M228.5 515v1M229.5 516v1M230.5 517v1M231.5 518v1M232.5 519v1M233.5 520v1M234.5 521v1M235.5 522v1M236.5 523v1M237.5 524v1M238.5 525v1M239.5 525v1M240.5 526v1M241.5 527v1M242.5 528v1M243.5 529v1M244.5 530v1M245.5 530v1M246.5 531v1M247.5 532v1M248.5 533v1M249.5 534v1M250.5 535v1M251.5 535v1M252.5 536v1M253.5 537v1M254.5 538v1M255.5 538v1M256.5 539v1M257.5 540v1M258.5 540v1M259.5 541v1M260.5 541v1M261.5 542v1M262.5 542v1M263.5 543v1M264.5 543v1M265.5 543v1M266.5 544v1M267.5 544v1M268.5 544v1M269.5 544v1M270.5 545v1M271.5 545v1M272.5 545v1M273.5 545v1M274.5 545v1M275.5 545v1M276.5 546v1M277.5 546v1M278.5 546v1M279.5 546v1M280.5 546v1M281.5 546v1M282.5 546v1M283.5 546v1M284.5 547v1M285.5 547v1M286.5 547v1M287.5 547v1M288.5 547v1M289.5 547v1M290.5 548v1M291.5 548v1M292.5 548v1M293.5 549v1M294.5 549v1M295.5 549v1M296.5 550v1M297.5 550v1M298.5 550v1M299.5 551v1M300.5 551v1M301.5 551v1M302.5 552v1M303.5 552v1M304.5 552v1M305.5 552v1M306.5 553v1M307.5 553v1M308.5 553v1M309.5 553v1M310.5 553v1M311.5 554v1M312.5 554v1M313.5 554v1M314.5 554v1M315.5 554v1M316.5 554v1M317.5 554v1M318.5 554v1M319.5 554v1M320.5 554v1M321.5 554v1M322.5 554v1M323.5 554v1M324.5 554v1M325.5 554v1M326.5 554v1M327.5 554v1M328.5 553v1M329.5 553v1M330.5 553v1M331.5 552v1M332.5 552v1M333.5 551v1M334.5 551v1M335.5 550v1M336.5 550v1M337.5 550v1M338.5 550v1M339.5 550v1M340.5 549v1M341.5 549v1M342.5 549v1M343.5 549v1M344.5 549v1M345.5 549v1M346.5 549v1M347.5 549v1M348.5 550v1M349.5 550v1M350.5 550v1M351.5 550v1M352.5 550v1M353.5 550v1M354.5 551v1M355.5 551v1M356.5 551v1M357.5 551v1M358.5 552v1M359.5 552v1M360.5 552v1M361.5 552v1M362.5 553v1M363.5 553v1M364.5 554v1M365.5 554v1M366.5 554v1M367.5 555v1M368.5 555v1M369.5 556v1M370.5 556v1M371.5 557v1M372.5 557v1M373.5 558v1M374.5 558v1M375.5 559v1M376.5 559v1M377.5 559v1M378.5 559v1M379.5 559v1M380.5 559v1M381.5 559v1M382.5 559v1M383.5 559v1M384.5 559v1M385.5 559v1M386.5 559v1M387.5 559v1M388.5 559v1M389.5 559v1M390.5 559v1M391.5 559v1M392.5 558v1M393.5 558v1M394.5 558v1M395.5 557v1M396.5 557v1M397.5 556v1M398.5 556v1M399.5 555v1M400.5 555v1M401.5 554v1M402.5 554v1M403.5 553v1M404.5 553v1M405.5 552v1M406.5 552v1M407.5 551v1M408.5 550v1M409.5 550v1M410.5 549v1M411.5 549v1M412.5 548v1M413.5 547v1M414.5 547v1M415.5 546v1M416.5 546v1M417.5 545v1M418.5 545v1M419.5 544v1M420.5 544v1M421.5 543v1M422.5 543v1M423.5 542v1M424.5 541v1M425.5 541v1M426.5 540v1M427.5 539v1M428.5 538v1M429.5 537v1M430.5 537v1M431.5 536v1M432.5 535v1M433.5 534v1M434.5 533v1M435.5 532v1M436.5 530v2M437.5 529v1M438.5 528v1M439.5 527v1M440.5 526v1M441.5 525v1M442.5 524v1M443.5 523v1M444.5 521v2M445.5 520v1M446.5 519v1M447.5 518v1M448.5 517v1M449.5 516v1M450.5 515v1M451.5 514v1M452.5 513v1M453.5 513v1M454.5 512v1M455.5 511v1M456.5 510v1M457.5 509v1M458.5 508v1M459.5 508v1M460.5 507v1M461.5 506v1M462.5 505v1M463.5 505v1M464.5 504v1M465.5 504v1M466.5 503v1M467.5 503v1M468.5 502v1M469.5 502v1M470.5 502v1M471.5 501v1M472.5 501v1M473.5 501v1M474.5 501v1M475.5 501v1M476.5 501v1M477.5 500v1M478.5 500v1M479.5 500v1M480.5 500v1M481.5 500v1M482.5 500v1M483.5 500v1M484.5 500v1M485.5 500v1M486.5 501v1M487.5 501v1M488.5 501v1M489.5 501v1M490.5 501v1M491.5 501v1M492.5 501v1M493.5 501v1M494.5 501v1M495.5 501v1M496.5 501v1M497.5 501v1M498.5 501v1M499.5 501v1M500.5 501v1M501.5 501v1M502.5 501v1M503.5 501v1M504.5 501v1M505.5 501v1M506.5 501v1M507.5 501v1M508.5 501v1M509.5 501v1M510.5 501v1M511.5 501v1M512.5 501v1M513.5 502v1M514.5 502v1M515.5 502v1M516.5 502v1M517.5 502v1M518.5 503v1M519.5 503v1M520.5 503v1M521.5 503v1M522.5 503v1M523.5 504v1M524.5 504v1M525.5 504v1M526.5 504v1M527.5 504v1M528.5 505v1M529.5 505v1M530.5 505v1M531.5 505v1M532.5 506v1M533.5 506v1M534.5 506v1M535.5 507v1M536.5 507v1M537.5 507v1M538.5 507v1M539.5 508v1M540.5 508v1M541.5 508v1M542.5 509v1M543.5 509v1M544.5 509v1M545.5 509v1M546.5 510v1M547.5 510v1M548.5 510v1M549.5 510v1M550.5 511v1M551.5 511v1M552.5 511v1M553.5 511v1M554.5 511v1M555.5 511v1M556.5 511v1M557.5 511v1M558.5 511v1M559.5 511v1M560.5 511v1M561.5 511v1M562.5 511v1M563.5 511v1M564.5 511v1M565.5 511v1M566.5 511v1M567.5 511v1M568.5 511v1M569.5 511v1M570.5 511v1M571.5 511v1M572.5 511v1M573.5 511v1M574.5 511v1M575.5 512v1M576.5 512v1M577.5 512v1M578.5 512v1M579.5 512v1M580.5 512v1M581.5 512v1M582.5 513v1M583.5 513v1M584.5 513v1M585.5 514v1M586.5 514v1M587.5 514v1M588.5 514v1M589.5 515v1M590.5 515v1M591.5 515v1M592.5 516v1M593.5 516v1M594.5 517v1M595.5 517v1M596.5 517v1M597.5 518v1M598.5 518v1M599.5 519v1M600.5 519v1M601.5 519v1M602.5 520v1M603.5 520v1M604.5 520v1M605.5 520v1M606.5 521v1M607.5 521v1M608.5 521v1M609.5 521v1M610.5 521v1M611.5 521v1M612.5 521v1M613.5 521v1M614.5 521v1M615.5 521v1M616.5 521v1M617.5 521v1M618.5 521v1M619.5 521v1M620.5 521v1M621.5 521v1M622.5 521v1M623.5 521v1M624.5 520v1M625.5 520v1M626.5 520v1M627.5 520v1M628.5 520v1M629.5 520v1M630.5 520v1M631.5 520v1M632.5 520v1M633.5 520v1M634.5 520v1M635.5 520v1M636.5 520v1M637.5 520v1M638.5 520v1M639.5 520v1M640.5 520v1M641.5 520v1M642.5 519v1M643.5 519v1M644.5 519v1M645.5 519v1M646.5 519v1M647.5 519v1M648.5 518v1M649.5 518v1M650.5 518v1M651.5 517v1M652.5 517v1M653.5 517v1M654.5 517v1M655.5 517v1M656.5 517v1M657.5 517v1M658.5 517v1M659.5 517v1M660.5 517v1M661.5 517v1M662.5 517v1M663.5 517v1M664.5 517v1M665.5 517v1M666.5 517v1M667.5 517v1M668.5 517v1M669.5 517v1M670.5 517v1M671.5 517v1M672.5 518v1M673.5 518v1M674.5 518v1M675.5 518v1M676.5 519v1M677.5 519v1M678.5 519v1M679.5 520v1M680.5 520v1M681.5 521v1M682.5 521v1M683.5 522v1M684.5 522v1M685.5 523v1M686.5 523v1M687.5 523v1M688.5 524v1M689.5 524v1M690.5 525v1M691.5 525v1M692.5 525v1M693.5 526v1M694.5 526v1M695.5 527v1M696.5 527v1M697.5 528v1M698.5 528v1M699.5 529v1M700.5 529v1M701.5 530v1M702.5 530v1M703.5 531v1M704.5 531v1M705.5 532v1M706.5 532v1M707.5 533v1M708.5 533v1M709.5 533v1M710.5 533v1M711.5 533v1M712.5 534v1M713.5 534v1M714.5 534v1M715.5 534v1M716.5 534v1M717.5 534v1M718.5 534v1M719.5 535v1M720.5 535v1M721.5 535v1M722.5 535v1M723.5 535v1M724.5 535v1M725.5 535v1M726.5 535v1M727.5 535v1M728.5 535v1M729.5 535v1M730.5 536v1M731.5 536v1M732.5 536v1M733.5 536v1M734.5 536v1M735.5 536v1M736.5 536v1M737.5 536v1M738.5 536v1M739.5 536v1M740.5 535v1M741.5 535v1M742.5 535v1M743.5 535v1M744.5 535v1M745.5 535v1M746.5 535v1M747.5 535v1M748.5 534v1M749.5 534v1M750.5 533v1M751.5 533v1M752.5 533v1M753.5 532v1M754.5 532v1M755.5 531v1M756.5 531v1M757.5 531v1M758.5 530v1M759.5 530v1M760.5 529v1M761.5 529v1M762.5 529v1M763.5 528v1M764.5 528v1M765.5 527v1M766.5 527v1M767.5 526v1M768.5 526v1M769.5 525v1M770.5 525v1M771.5 524v1M772.5 524v1M773.5 523v1M774.5 523v1M775.5 523v1M776.5 523v1M777.5 522v1M778.5 522v1M779.5 522v1M780.5 522v1M781.5 522v1M782.5 522v1M783.5 522v1M784.5 522v1M785.5 522v1M786.5 522v1M787.5 522v1M788.5 522v1M789.5 522v1M790.5 522v1M791.5 522v1M792.5 522v1M793.5 523v1M794.5 523v1M795.5 524v1M796.5 524v1M797.5 524v1M798.5 524v1M799.5 524v1M800.5 525v1M801.5 525v1M802.5 525v1M803.5 525v1M804.5 525v1M805.5 525v1M806.5 526v1M807.5 526v1M808.5 526v1M809.5 526v1M810.5 527v1M811.5 527v1M812.5 527v1M813.5 527v1M814.5 527v1M815.5 527v1M816.5 528v1M817.5 528v1M818.5 528v1M819.5 528v1M820.5 528v1M821.5 528v1M822.5 528v1M823.5 528v1M824.5 528v1M825.5 528v1M826.5 528v1M827.5 528v1M828.5 528v1M829.5 528v1M830.5 528v1M831.5 528v1M832.5 528v1M833.5 528v1M834.5 528v1M835.5 528v1M836.5 528v1M837.5 528v1M838.5 528v1M839.5 528v1M840.5 528v1M841.5 528v1M842.5 528v1M843.5 529v1M844.5 529v1M845.5 529v1M846.5 529v1M847.5 530v1M848.5 530v1M849.5 531v1M850.5 531v1M851.5 532v1M852.5 532v1M853.5 533v1M854.5 533v1M855.5 534v1M856.5 534v1M857.5 535v1M858.5 536v1M859.5 536v1M860.5 537v1M861.5 537v1M862.5 538v1M863.5 539v1M864.5 539v1M865.5 540v1M866.5 541v1M867.5 541v1M868.5 542v1M869.5 542v1M870.5 543v1M871.5 544v1M872.5 544v1M873.5 545v1M874.5 545v1M875.5 546v1M876.5 546v1M877.5 547v1M878.5 547v1M879.5 547v1M880.5 548v1M881.5 548v1M882.5 548v1M883.5 549v1M884.5 549v1M885.5 549v1M886.5 549v1M887.5 549v1M888.5 549v1M889.5 549v1M890.5 549v1M891.5 549v1M892.5 549v1M893.5 549v1M894.5 549v1M895.5 549v1M896.5 548v1M897.5 548v1M898.5 547v1M899.5 547v1M900.5 547v1M901.5 546v1M902.5 546v1M903.5 546v1M904.5 545v1M905.5 545v1M906.5 545v1M907.5 544v1M908.5 544v1M909.5 544v1M910.5 544v1M911.5 543v1M912.5 543v1M913.5 543v1M914.5 542v1M915.5 542v1M916.5 541v1M917.5 541v1M918.5 541v1M919.5 540v1M920.5 540v1M921.5 540v1M922.5 540v1M923.5 539v1M924.5 539v1M925.5 539v1" fill="none" stroke="#ff0000" stroke-width="1"/>
<line x1="6" y1="597.5" x2="1167" y2="597.5" stroke="#c0c0c0" stroke-width="1" stroke-dasharray="3,3"/>
<line x1="6" y1="632.5" x2="1167" y2="632.5" stroke="#c0c0c0" stroke-width="1" stroke-dasharray="3,3"/>
<path d="M5.5 629v1M6.5 627v2M7.5 626v1M8.5 624v2M9.5 623v1M10.5 621v2M11.5 620v1M12.5 618v2M13.5 617v1M14.5 615v2M15.5 613v2M16.5 611v2M17.5 610v1M18.5 611v1M19.5 612v1M20.5 613v1M21.5 614v1M22.5 613v1M23.5 613v1M24.5 612v1M25.5 612v1M26.5 611v1M27.5 611v1M28.5 610v1M29.5 610v1M30.5 611v1M31.5 612v1M32.5 612v1M33.5 613v1M34.5 614v1M35.5 614v1M36.5 615v1M37.5 615v1M38.5 614v1M39.5 614v1M40.5 613v1M41.5 613v1M42.5 612v1M43.5 611v1M44.5 610v1M45.5 609v1M46.5 608v1M47.5 608v1M48.5 607v1M49.5 607v1M50.5 608v2M51.5 610v1M52.5 611v2M53.5 613v1M54.5 612v1M55.5 611v1M56.5 611v1M57.5 610v1M58.5 611v1M59.5 611v1M60.5 612v1M61.5 612v1M62.5 612v1M63.5 611v1M64.5 611v1M65.5 610v2M66.5 608v2M67.5 606v2M68.5 604v2M69.5 602v2M70.5 603v1M71.5 603v1M72.5 604v1M73.5 604v1M74.5 603v1M75.5 601v2M76.5 600v1M77.5 599v1M78.5 600v2M79.5 602v1M80.5 603v2M81.5 605v1M82.5 606v1M83.5 607v1M84.5 607v1M85.5 608v1M86.5 609v1M87.5 610v2M88.5 612v1M89.5 613v1M90.5 612v1M91.5 612v1M92.5 611v1M93.5 611v1M94.5 611v1M95.5 611v1M96.5 611v1M97.5 611v1M98.5 611v1M99.5 611v1M100.5 611v1M101.5 611v1M102.5 611v1M103.5 611v1M104.5 611v1M105.5 611v1M106.5 610v1M107.5 610v1M108.5 609v1M109.5 609v1M110.5 609v1M111.5 610v1M112.5 610v1M113.5 610v1M114.5 610v1M115.5 609v1M116.5 609v1M117.5 609v1M118.5 609v1M119.5 610v1M120.5 610v1M121.5 610v1M122.5 610v1M123.5 611v1M124.5 611v1M125.5 611v1M126.5 610v1M127.5 610v1M128.5 609v1M129.5 609v1M130.5 608v1M131.5 607v1M132.5 607v1M133.5 606v1M134.5 604v2M135.5 603v1M136.5 601v2M137.5 600v1M138.5 601v1M139.5 602v1M140.5 602v1M141.5 603v1M142.5 603v1M143.5 603v1M144.5 603v1M145.5 603v1M146.5 601v2M147.5 600v1M148.5 598v2M149.5 597v1M150.5 597v1M151.5 597v1M152.5 597v1M153.5 597v1M154.5 598v1M155.5 599v1M156.5 600v1M157.5 601v1M158.5 600v1M159.5 600v1M160.5 599v1M161.5 599v1M162.5 599v1M163.5 600v1M164.5 600v1M165.5 600v1M166.5 600v1M167.5 600v1M168.5 600v1M169.5 600v1M170.5 601v2M171.5 603v2M172.5 605v2M173.5 607v1M174.5 608v1M175.5 609v2M176.5 611v1M177.5 612v1M178.5 611v1M179.5 611v1M180.5 610v1M181.5 610v1M182.5 609v1M183.5 608v1M184.5 608v1M185.5 607v1M186.5 607v1M187.5 608v1M188.5 608v1M189.5 608v1M190.5 608v1M191.5 607v1M192.5 607v1M193.5 607v1M194.5 608v1M195.5 609v1M196.5 609v1M197.5 610v1M198.5 611v1M199.5 611v1M200.5 612v1M201.5 612v1M202.5 613v2M203.5 615v1M204.5 616v2M205.5 618v1M206.5 618v1M207.5 618v1M208.5 618v1M209.5 618v1M210.5 618v1M211.5 619v1M212.5 619v1M213.5 619v1M214.5 619v1M215.5 618v1M216.5 618v1M217.5 618v1M218.5 619v1M219.5 620v2M220.5 622v1M221.5 623v1M222.5 624v1M223.5 625v1M224.5 625v1M225.5 626v1M226.5 627v1M227.5 628v1M228.5 628v1M229.5 629v1M230.5 629v1M231.5 628v1M232.5 628v1M233.5 628v1M234.5 628v1M235.5 628v1M236.5 628v1M237.5 628v1M238.5 628v1M239.5 629v1M240.5 629v1M241.5 629v1M242.5 630v1M243.5 631v1M244.5 631v1M245.5 632v1M246.5 631v1M247.5 631v1M248.5 630v1M249.5 630v1M250.5 631v1M251.5 631v1M252.5 632v1M253.5 632v1M254.5 632v1M255.5 633v1M256.5 633v1M257.5 633v1M258.5 633v1M259.5 632v1M260.5 632v1M261.5 632v1M262.5 631v1M263.5 631v1M264.5 630v1M265.5 630v1M266.5 630v1M267.5 630v1M268.5 630v1M269.5 629v2M270.5 627v2M271.5 625v2M272.5 623v2M273.5 621v2M274.5 622v1M275.5 622v1M276.5 623v1M277.5 623v1M278.5 624v2M279.5 626v1M280.5 627v2M281.5 629v2M282.5 631v2M283.5 633v2M284.5 635v2M285.5 637v2M286.5 638v1M287.5 638v1M288.5 638v1M289.5 638v1M290.5 638v1M291.5 639v1M292.5 639v1M293.5 638v2M294.5 636v2M295.5 634v2M296.5 632v2M297.5 629v3M298.5 626v3M299.5 624v2M300.5 621v3M301.5 619v2M302.5 620v1M303.5 620v1M304.5 621v1M305.5 621v1M306.5 622v1M307.5 623v1M308.5 623v1M309.5 624v1M310.5 624v1M311.5 624v1M312.5 624v1M313.5 624v1M314.5 623v1M315.5 623v1M316.5 622v1M317.5 622v1M318.5 623v1M319.5 624v1M320.5 625v1M321.5 626v1M322.5 626v1M323.5 625v1M324.5 625v1M325.5 625v1M326.5 624v1M327.5 624v1M328.5 623v1M329.5 623v1M330.5 622v1M331.5 622v1M332.5 621v1M333.5 621v1M334.5 621v1M335.5 622v1M336.5 622v1M337.5 622v1M338.5 623v1M339.5 624v2M340.5 626v1M341.5 627v1M342.5 628v1M343.5 628v1M344.5 629v1M345.5 629v1M346.5 630v1M347.5 631v1M348.5 632v1M349.5 633v1M350.5 633v1M351.5 634v1M352.5 634v1M353.5 634v1M354.5 635v1M355.5 635v1M356.5 636v1M357.5 636v1M358.5 636v1M359.5 637v1M360.5 637v1M361.5 637v1M362.5 636v1M363.5 634v2M364.5 633v1M365.5 632v1M366.5 631v1M367.5 629v2M368.5 628v1M369.5 627v1M370.5 627v1M371.5 628v1M372.5 628v1M373.5 628v1M374.5 626v2M375.5 624v2M376.5 622v2M377.5 620v2M378.5 621v1M379.5 622v1M380.5 622v1M381.5 623v1M382.5 623v1M383.5 622v1M384.5 622v1M385.5 622v1M386.5 622v1M387.5 622v1M388.5 622v1M389.5 622v1M390.5 621v1M391.5 620v1M392.5 620v1M393.5 619v1M394.5 620v1M395.5 621v1M396.5 621v1M397.5 622v1M398.5 622v1M399.5 622v1M400.5 622v1M401.5 622v1M402.5 621v1M403.5 620v1M404.5 619v1M405.5 618v1M406.5 618v1M407.5 619v1M408.5 619v1M409.5 619v1M410.5 618v1M411.5 616v2M412.5 615v1M413.5 614v1M414.5 614v1M415.5 614v1M416.5 614v1M417.5 614v1M418.5 615v1M419.5 616v2M420.5 618v1M421.5 617v3M422.5 613v4M423.5 609v4M424.5 605v4M425.5 602v3M426.5 602v1M427.5 602v1M428.5 602v1M429.5 602v1M430.5 602v1M431.5 602v1M432.5 602v1M433.5 602v1M434.5 601v1M435.5 600v1M436.5 600v1M437.5 599v1M438.5 598v1M439.5 598v1M440.5 597v1M441.5 597v1M442.5 598v1M443.5 599v1M444.5 600v1M445.5 601v1M446.5 601v1M447.5 601v1M448.5 601v1M449.5 601v1M450.5 602v1M451.5 603v2M452.5 605v1M453.5 606v1M454.5 606v1M455.5 606v1M456.5 606v1M457.5 606v1M458.5 607v1M459.5 607v1M460.5 608v1M461.5 608v1M462.5 607v1M463.5 606v1M464.5 606v1M465.5 605v1M466.5 605v1M467.5 605v1M468.5 605v1M469.5 605v1M470.5 604v1M471.5 604v1M472.5 603v1M473.5 603v1M474.5 603v1M475.5 602v1M476.5 602v1M477.5 602v1M478.5 603v1M479.5 604v1M480.5 604v1M481.5 605v1M482.5 606v1M483.5 607v1M484.5 608v1M485.5 609v1M486.5 607v2M487.5 606v1M488.5 604v2M489.5 603v1M490.5 604v1M491.5 605v1M492.5 606v1M493.5 607v1M494.5 605v2M495.5 604v1M496.5 602v2M497.5 601v1M498.5 602v1M499.5 603v1M500.5 604v1M501.5 605v1M502.5 606v1M503.5 606v1M504.5 607v1M505.5 607v1M506.5 608v1M507.5 608v1M508.5 609v1M509.5 609v1M510.5 610v1M511.5 611v1M512.5 611v1M513.5 612v1M514.5 613v1M515.5 613v1M516.5 614v1M517.5 614v1M518.5 614v1M519.5 614v1M520.5 614v1M521.5 614v1M522.5 612v2M523.5 611v1M524.5 609v2M525.5 608v1M526.5 609v1M527.5 610v1M528.5 610v1M529.5 611v1M530.5 610v1M531.5 608v2M532.5 607v1M533.5 606v1M534.5 607v1M535.5 607v1M536.5 608v1M537.5 608v1M538.5 609v2M539.5 611v2M540.5 613v2M541.5 615v1M542.5 614v1M543.5 613v1M544.5 613v1M545.5 612v1M546.5 611v1M547.5 611v1M548.5 610v1M549.5 610v1M550.5 611v1M551.5 612v1M552.5 612v1M553.5 613v1M554.5 612v1M555.5 611v1M556.5 611v1M557.5 609v2M558.5 607v2M559.5 605v2M560.5 603v2M561.5 601v2M562.5 602v2M563.5 604v2M564.5 606v2M565.5 608v3M566.5 611v2M567.5 613v2M568.5 615v2M569.5 617v2M570.5 618v1M571.5 617v1M572.5 617v1M573.5 617v1M574.5 617v1M575.5 616v1M576.5 616v1M577.5 616v1M578.5 616v1M579.5 617v1M580.5 617v1M581.5 617v1M582.5 617v1M583.5 616v1M584.5 616v1M585.5 616v1M586.5 616v1M587.5 617v1M588.5 617v1M589.5 617v1M590.5 618v1M591.5 618v1M592.5 619v1M593.5 619v1M594.5 617v2M595.5 615v2M596.5 613v2M597.5 612v1M598.5 612v1M599.5 613v1M600.5 613v1M601.5 613v1M602.5 612v1M603.5 612v1M604.5 611v1M605.5 611v1M606.5 611v1M607.5 610v1M608.5 610v1M609.5 610v1M610.5 611v1M611.5 612v1M612.5 613v1M613.5 614v1M614.5 614v1M615.5 614v1M616.5 614v1M617.5 614v1M618.5 614v1M619.5 613v1M620.5 613v1M621.5 613v1M622.5 613v1M623.5 614v1M624.5 614v1M625.5 614v1M626.5 614v1M627.5 614v1M628.5 614v1M629.5 614v1M630.5 612v2M631.5 610v2M632.5 608v2M633.5 607v1M634.5 608v1M635.5 609v1M636.5 610v1M637.5 611v1M638.5 610v1M639.5 609v1M640.5 608v1M641.5 607v1M642.5 606v1M643.5 606v1M644.5 605v1M645.5 605v1M646.5 606v1M647.5 606v1M648.5 607v1M649.5 607v1M650.5 608v2M651.5 610v1M652.5 611v2M653.5 613v1M654.5 614v1M655.5 615v2M656.5 617v1M657.5 618v1M658.5 618v1M659.5 618v1M660.5 618v1M661.5 618v1M662.5 617v1M663.5 616v1M664.5 616v1M665.5 615v1M666.5 616v1M667.5 617v2M668.5 619v1M669.5 620v1M670.5 620v1M671.5 621v1M672.5 621v1M673.5 621v1M674.5 621v1M675.5 620v1M676.5 620v1M677.5 620v1M678.5 621v1M679.5 622v1M680.5 622v1M681.5 623v1M682.5 624v1M683.5 624v1M684.5 625v1M685.5 625v1M686.5 625v1M687.5 624v1M688.5 624v1M689.5 624v1M690.5 625v1M691.5 626v1M692.5 627v1M693.5 628v1M694.5 628v1M695.5 628v1M696.5 628v1M697.5 628v1M698.5 626v2M699.5 624v2M700.5 622v2M701.5 621v1M702.5 620v1M703.5 619v1M704.5 618v1M705.5 617v1M706.5 617v1M707.5 617v1M708.5 617v1M709.5 617v1M710.5 618v1M711.5 619v1M712.5 620v1M713.5 621v1M714.5 622v1M715.5 623v1M716.5 623v1M717.5 624v1M718.5 624v1M719.5 623v1M720.5 623v1M721.5 623v1M722.5 623v1M723.5 623v1M724.5 623v1M725.5 623v1M726.5 624v1M727.5 625v1M728.5 625v1M729.5 626v1M730.5 627v1M731.5 627v1M732.5 628v1M733.5 627v2M734.5 624v3M735.5 620v4M736.5 617v3M737.5 615v2M738.5 614v1M739.5 612v2M740.5 611v1M741.5 610v1M742.5 610v1M743.5 609v1M744.5 609v1M745.5 609v1M746.5 608v1M747.5 607v1M748.5 606v1M749.5 605v1M750.5 605v1M751.5 605v1M752.5 605v1M753.5 605v2M754.5 607v2M755.5 609v3M756.5 612v2M757.5 614v2M758.5 615v1M759.5 614v1M760.5 614v1M761.5 614v1M762.5 614v1M763.5 614v1M764.5 614v1M765.5 614v1M766.5 614v1M767.5 613v1M768.5 613v1M769.5 613v1M770.5 614v1M771.5 614v1M772.5 615v1M773.5 615v1M774.5 614v1M775.5 614v1M776.5 613v1M777.5 613v1M778.5 612v1M779.5 611v1M780.5 610v1M781.5 609v1M782.5 610v2M783.5 612v2M784.5 614v2M785.5 616v2M786.5 618v2M787.5 620v2M788.5 622v2M789.5 624v1M790.5 624v1M791.5 624v1M792.5 624v1M793.5 624v1M794.5 622v2M795.5 620v2M796.5 618v2M797.5 617v1M798.5 617v1M799.5 618v1M800.5 618v1M801.5 618v1M802.5 617v1M803.5 615v2M804.5 614v1M805.5 613v1M806.5 614v1M807.5 615v1M808.5 615v1M809.5 616v1M810.5 616v1M811.5 617v1M812.5 617v1M813.5 617v1M814.5 617v1M815.5 618v1M816.5 618v1M817.5 618v1M818.5 617v1M819.5 616v1M820.5 615v1M821.5 614v1M822.5 615v1M823.5 615v1M824.5 616v1M825.5 616v1M826.5 617v2M827.5 619v1M828.5 620v2M829.5 622v1M830.5 621v1M831.5 621v1M832.5 620v1M833.5 620v1M834.5 620v1M835.5 620v1M836.5 620v1M837.5 620v1M838.5 620v1M839.5 620v1M840.5 620v1M841.5 620v1M842.5 621v1M843.5 622v1M844.5 622v1M845.5 623v2M846.5 625v3M847.5 628v2M848.5 630v3M849.5 633v2M850.5 632v2M851.5 631v1M852.5 629v2M853.5 628v1M854.5 628v1M855.5 628v1M856.5 628v1M857.5 628v1M858.5 628v1M859.5 629v1M860.5 629v1M861.5 629v1M862.5 629v1M863.5 629v1M864.5 629v1M865.5 629v1M866.5 629v1M867.5 630v1M868.5 630v1M869.5 630v1M870.5 630v1M871.5 630v1M872.5 630v1M873.5 630v1M874.5 629v1M875.5 627v2M876.5 626v1M877.5 625v1M878.5 625v1M879.5 626v1M880.5 626v1M881.5 626v1M882.5 624v2M883.5 622v2M884.5 620v2M885.5 618v2M886.5 618v1M887.5 618v1M888.5 618v1M889.5 618v1M890.5 619v1M891.5 620v1M892.5 621v1M893.5 622v1M894.5 621v1M895.5 621v1M896.5 620v1M897.5 620v1M898.5 620v1M899.5 619v1M900.5 619v1M901.5 619v1M902.5 619v1M903.5 620v1M904.5 620v1M905.5 620v1M906.5 620v1M907.5 620v1M908.5 620v1M909.5 620v1M910.5 620v1M911.5 620v1M912.5 620v1M913.5 620v1M914.5 621v1M915.5 622v1M916.5 623v1M917.5 624v1M918.5 623v1M919.5 623v1M920.5 622v1M921.5 622v1M922.5 622v1M923.5 623v1M924.5 623v1M925.5 623v1" fill="none" stroke="#1e90ff" stroke-width="1"/>
<rect x="4" y="22" width="1" height="637" fill="#000" />
<rect x="4" y="22" width="1164" height="1" fill="#000" />
<rect x="1167" y="22" width="1" height="461" fill="#000" />
<rect x="4" y="482" width="1164" height="1" fill="#000" />
<rect x="4" y="484" width="1164" height="1" fill="#000" />
<rect x="1167" y="484" width="1" height="85" fill="#000" />
<rect x="4" y="568" width="1164" height="1" fill="#000" />
<rect x="4" y="570" width="1164" height="1" fill="#000" />
<rect x="1167" y="570" width="1" height="89" fill="#000" />
<rect x="4" y="658" width="1164" height="1" fill="#000" />
<rect x="1167" y="47" width="1" height="2" fill="#ff0000" />
<rect x="1167" y="172" width="1" height="2" fill="#ff0000" />
<rect x="1167" y="290" width="1" height="2" fill="#00ff00" />
<rect x="1167" y="381" width="1" height="2" fill="#0000ff" />
<rect x="1167" y="472" width="1" height="2" fill="#0000ff" />
<rect x="5" y="659" width="1" height="3" fill="#000" />
<rect x="69" y="659" width="1" height="3" fill="#000" />
<rect x="133" y="659" width="1" height="3" fill="#000" />
<rect x="197" y="659" width="1" height="3" fill="#000" />
<rect x="261" y="659" width="1" height="3" fill="#000" />
<rect x="325" y="659" width="1" height="3" fill="#000" />
<rect x="389" y="659" width="1" height="3" fill="#000" />
<rect x="453" y="659" width="1" height="3" fill="#000" />
<rect x="517" y="659" width="1" height="3" fill="#000" />
<rect x="581" y="659" width="1" height="3" fill="#000" />
<rect x="645" y="659" width="1" height="3" fill="#000" />
<rect x="709" y="659" width="1" height="3" fill="#000" />
<rect x="773" y="659" width="1" height="3" fill="#000" />
<rect x="837" y="659" width="1" height="3" fill="#000" />
<rect x="901" y="659" width="1" height="3" fill="#000" />
<rect x="1168" y="50" width="2" height="1" fill="#000" />
<rect x="1168" y="83" width="2" height="1" fill="#000" />
<rect x="1168" y="116" width="2" height="1" fill="#000" />
<rect x="1168" y="149" width="2" height="1" fill="#000" />
<rect x="1168" y="182" width="2" height="1" fill="#000" />
<rect x="1168" y="215" width="2" height="1" fill="#000" />
<rect x="1168" y="248" width="2" height="1" fill="#000" />
<rect x="1168" y="281" width="2" height="1" fill="#000" />
<rect x="1168" y="314" width="2" height="1" fill="#000" />
<rect x="1168" y="347" width="2" height="1" fill="#000" />
<rect x="1168" y="380" width="2" height="1" fill="#000" />
<rect x="1168" y="413" width="2" height="1" fill="#000" />
<rect x="1168" y="446" width="2" height="1" fill="#000" />
<rect x="1168" y="479" width="2" height="1" fill="#000" />
<rect x="1168" y="486" width="1" height="1" fill="#000" />
<rect x="1168" y="523" width="1" height="1" fill="#000" />
<rect x="1168" y="567" width="1" height="1" fill="#000" />
<rect x="1168" y="572" width="1" height="1" fill="#000" />
<rect x="1168" y="657" width="1" height="1" fill="#000" />
</g>
<path d="M8 33 L11.5 29 L15 33 Z" fill="#000"/>
<text x="20.8" y="34" font-size="10" fill="#000" font-weight="normal" textLength="65.4" lengthAdjust="spacingAndGlyphs" >USDCNH,Daily</text>
<text x="92.3" y="34" font-size="10" fill="#000" font-weight="normal" textLength="33.2" lengthAdjust="spacingAndGlyphs" >6.39182</text>
<text x="128" y="34" font-size="10" fill="#000" font-weight="normal" textLength="33.6" lengthAdjust="spacingAndGlyphs" >6.39420</text>
<text x="164.3" y="34" font-size="10" fill="#000" font-weight="normal" textLength="33.0" lengthAdjust="spacingAndGlyphs" >6.38431</text>
<text x="200" y="34" font-size="10" fill="#000" font-weight="normal" textLength="33.4" lengthAdjust="spacingAndGlyphs" >6.38868</text>
<g shape-rendering="crispEdges">
<rect x="6" y="40" width="223" height="61" fill="#fff" />
<rect x="8" y="42" width="52" height="24" fill="url(#gb)" />
<rect x="175" y="42" width="52" height="24" fill="url(#gb)" />
<rect x="8" y="66" width="109" height="33" fill="url(#gp)" />
<rect x="119" y="66" width="108" height="33" fill="url(#gp)" />
<rect x="8" y="42" width="1" height="57" fill="#0000b4" />
<rect x="59" y="42" width="1" height="24" fill="#0a0aa8" />
<rect x="175" y="42" width="1" height="24" fill="#0a0aa8" />
<rect x="226" y="42" width="1" height="57" fill="#0000b4" />
<rect x="116" y="66" width="1" height="33" fill="#0000b4" />
<rect x="119" y="66" width="1" height="33" fill="#0000b4" />
<rect x="8" y="42" width="52" height="1" fill="#0a0aa8" />
<rect x="175" y="42" width="52" height="1" fill="#0a0aa8" />
<rect x="12" y="66" width="44" height="1" fill="#9c9cf6" />
<rect x="179" y="66" width="44" height="1" fill="#9c9cf6" />
<rect x="62" y="42" width="111" height="22" fill="#a4a4ac" />
<rect x="63" y="43" width="109" height="20" fill="#fff" />
<rect x="64" y="44" width="18" height="6" fill="url(#gs1)" />
<rect x="64" y="50" width="18" height="12" fill="url(#gs2)" />
<rect x="153" y="44" width="18" height="6" fill="url(#gs1)" />
<rect x="153" y="50" width="18" height="12" fill="url(#gs2)" />
<rect x="83" y="43" width="1" height="20" fill="#a4a4ac" />
<rect x="151" y="43" width="1" height="20" fill="#a4a4ac" />
<rect x="12" y="65" width="44" height="1" fill="#2424b8" />
<rect x="179" y="65" width="44" height="1" fill="#2424b8" />
<rect x="60" y="66" width="57" height="1" fill="#0a0aa8" />
<rect x="119" y="66" width="56" height="1" fill="#0a0aa8" />
</g>
<path d="M70 51 L75.4 51 L72.7 54.4 Z" fill="#3a449c"/><rect x="70" y="51" width="5.4" height="1" fill="#4c6adc"/>
<path d="M158.8 54.2 L164.4 54.2 L161.6 50.8 Z" fill="#3a449c"/><rect x="158.8" y="53.2" width="5.6" height="1" fill="#4c6adc"/>
<text x="20.3" y="57.6" font-size="12" fill="#fff" font-weight="normal" textLength="25.9" lengthAdjust="spacingAndGlyphs" >SELL</text>
<text x="188.5" y="57.6" font-size="12" fill="#fff" font-weight="normal" textLength="24.5" lengthAdjust="spacingAndGlyphs" >BUY</text>
<text x="124.3" y="57" font-size="12" fill="#000" font-weight="normal" textLength="23.7" lengthAdjust="spacingAndGlyphs" >3.00</text>
<text x="28.5" y="94" font-size="12" fill="#fff" font-weight="bold" textLength="23.5" lengthAdjust="spacingAndGlyphs" >6.38</text>
<text x="138.5" y="94" font-size="12" fill="#fff" font-weight="bold" textLength="23.5" lengthAdjust="spacingAndGlyphs" >6.39</text>
<text x="55.9" y="94" font-size="34.5" fill="#fff" font-weight="normal" textLength="33.8" lengthAdjust="spacingAndGlyphs" >87</text>
<text x="166.5" y="94" font-size="34.5" fill="#fff" font-weight="normal" textLength="35.0" lengthAdjust="spacingAndGlyphs" >14</text>
<text x="95.5" y="78" font-size="12" fill="#fff" font-weight="bold" textLength="6.6" lengthAdjust="spacingAndGlyphs" >1</text>
<text x="205.3" y="78" font-size="12" fill="#fff" font-weight="bold" textLength="7.5" lengthAdjust="spacingAndGlyphs" >7</text>
<text x="8.9" y="497" font-size="10" fill="#000" font-weight="normal" textLength="65.9" lengthAdjust="spacingAndGlyphs" >MACD(12,26,9)</text>
<text x="78.7" y="497" font-size="10" fill="#000" font-weight="normal" textLength="40.5" lengthAdjust="spacingAndGlyphs" >-0.009320</text>
<text x="122.4" y="497" font-size="10" fill="#000" font-weight="normal" textLength="40.5" lengthAdjust="spacingAndGlyphs" >-0.010801</text>
<text x="9.4" y="583" font-size="10" fill="#000" font-weight="normal" textLength="68.4" lengthAdjust="spacingAndGlyphs" >RSI(14) 40.2496</text>
<g clip-path="url(#cax)">
<text x="1173" y="54" font-size="10" fill="#000" font-weight="normal" textLength="33.1" lengthAdjust="spacingAndGlyphs" >6.58350</text>
<text x="1173" y="87" font-size="10" fill="#000" font-weight="normal" textLength="33.1" lengthAdjust="spacingAndGlyphs" >6.56550</text>
<text x="1173" y="120" font-size="10" fill="#000" font-weight="normal" textLength="33.1" lengthAdjust="spacingAndGlyphs" >6.54750</text>
<text x="1173" y="153" font-size="10" fill="#000" font-weight="normal" textLength="33.1" lengthAdjust="spacingAndGlyphs" >6.52900</text>
<text x="1173" y="186" font-size="10" fill="#000" font-weight="normal" textLength="33.1" lengthAdjust="spacingAndGlyphs" >6.51100</text>
<text x="1173" y="219" font-size="10" fill="#000" font-weight="normal" textLength="33.1" lengthAdjust="spacingAndGlyphs" >6.49250</text>
<text x="1173" y="252" font-size="10" fill="#000" font-weight="normal" textLength="33.1" lengthAdjust="spacingAndGlyphs" >6.47450</text>
<text x="1173" y="285" font-size="10" fill="#000" font-weight="normal" textLength="33.1" lengthAdjust="spacingAndGlyphs" >6.45600</text>
<text x="1173" y="318" font-size="10" fill="#000" font-weight="normal" textLength="33.1" lengthAdjust="spacingAndGlyphs" >6.43800</text>
<text x="1173" y="351" font-size="10" fill="#000" font-weight="normal" textLength="33.1" lengthAdjust="spacingAndGlyphs" >6.41950</text>
<text x="1173" y="384" font-size="10" fill="#000" font-weight="normal" textLength="33.1" lengthAdjust="spacingAndGlyphs" >6.40150</text>
<text x="1173" y="417" font-size="10" fill="#000" font-weight="normal" textLength="33.1" lengthAdjust="spacingAndGlyphs" >6.38350</text>
<text x="1173" y="450" font-size="10" fill="#000" font-weight="normal" textLength="33.1" lengthAdjust="spacingAndGlyphs" >6.36500</text>
<text x="1173" y="483" font-size="10" fill="#000" font-weight="normal" textLength="33.1" lengthAdjust="spacingAndGlyphs" >6.34700</text>
<rect x="1169" y="42" width="41" height="11" fill="#ff0000" shape-rendering="crispEdges"/>
<text x="1173" y="51" font-size="10" fill="#fff" font-weight="normal" textLength="33.1" lengthAdjust="spacingAndGlyphs" >6.58514</text>
<rect x="1169" y="167" width="41" height="11" fill="#ff0000" shape-rendering="crispEdges"/>
<text x="1173" y="176" font-size="10" fill="#fff" font-weight="normal" textLength="33.1" lengthAdjust="spacingAndGlyphs" >6.51605</text>
<rect x="1169" y="285" width="41" height="11" fill="#00ff00" shape-rendering="crispEdges"/>
<text x="1173" y="294" font-size="10" fill="#fff" font-weight="normal" textLength="33.1" lengthAdjust="spacingAndGlyphs" >6.45060</text>
<rect x="1169" y="376" width="41" height="11" fill="#0000ff" shape-rendering="crispEdges"/>
<text x="1173" y="385" font-size="10" fill="#fff" font-weight="normal" textLength="33.1" lengthAdjust="spacingAndGlyphs" >6.40042</text>
<rect x="1169" y="398" width="41" height="11" fill="#000000" shape-rendering="crispEdges"/>
<text x="1173" y="407" font-size="10" fill="#fff" font-weight="normal" textLength="33.1" lengthAdjust="spacingAndGlyphs" >6.38868</text>
<rect x="1169" y="467" width="41" height="11" fill="#0000ff" shape-rendering="crispEdges"/>
<text x="1173" y="476" font-size="10" fill="#fff" font-weight="normal" textLength="33.1" lengthAdjust="spacingAndGlyphs" >6.35025</text>
</g>
<text x="1171" y="495" font-size="10" fill="#000" font-weight="normal" textLength="38.7" lengthAdjust="spacingAndGlyphs" >0.025108</text>
<text x="1171" y="527" font-size="10" fill="#000" font-weight="normal" textLength="19.1" lengthAdjust="spacingAndGlyphs" >0.00</text>
<text x="1171" y="565" font-size="10" fill="#000" font-weight="normal" textLength="42.9" lengthAdjust="spacingAndGlyphs" >-0.029881</text>
<text x="1171.3" y="581" font-size="10" fill="#000" font-weight="normal" textLength="16.9" lengthAdjust="spacingAndGlyphs" >100</text>
<text x="1170" y="601" font-size="10" fill="#000" font-weight="normal" textLength="12.5" lengthAdjust="spacingAndGlyphs" >70</text>
<text x="1170" y="636" font-size="10" fill="#000" font-weight="normal" textLength="12.5" lengthAdjust="spacingAndGlyphs" >30</text>
<text x="1170.8" y="655" font-size="10" fill="#000" font-weight="normal" textLength="6.7" lengthAdjust="spacingAndGlyphs" >0</text>
<text x="4.5" y="671" font-size="10" fill="#000" font-weight="normal" textLength="51.89" lengthAdjust="spacingAndGlyphs" >15 Feb 2021</text>
<text x="68.5" y="671" font-size="10" fill="#000" font-weight="normal" textLength="46.83" lengthAdjust="spacingAndGlyphs" >5 Mar 2021</text>
<text x="132.5" y="671" font-size="10" fill="#000" font-weight="normal" textLength="51.88" lengthAdjust="spacingAndGlyphs" >24 Mar 2021</text>
<text x="196.5" y="671" font-size="10" fill="#000" font-weight="normal" textLength="49.87" lengthAdjust="spacingAndGlyphs" >12 Apr 2021</text>
<text x="260.5" y="671" font-size="10" fill="#000" font-weight="normal" textLength="49.87" lengthAdjust="spacingAndGlyphs" >30 Apr 2021</text>
<text x="324.5" y="671" font-size="10" fill="#000" font-weight="normal" textLength="53.39" lengthAdjust="spacingAndGlyphs" >19 May 2021</text>
<text x="388.5" y="671" font-size="10" fill="#000" font-weight="normal" textLength="45.83" lengthAdjust="spacingAndGlyphs" >7 Jun 2021</text>
<text x="452.5" y="671" font-size="10" fill="#000" font-weight="normal" textLength="50.88" lengthAdjust="spacingAndGlyphs" >25 Jun 2021</text>
<text x="516.5" y="671" font-size="10" fill="#000" font-weight="normal" textLength="47.85" lengthAdjust="spacingAndGlyphs" >14 Jul 2021</text>
<text x="580.5" y="671" font-size="10" fill="#000" font-weight="normal" textLength="46.85" lengthAdjust="spacingAndGlyphs" >2 Aug 2021</text>
<text x="644.5" y="671" font-size="10" fill="#000" font-weight="normal" textLength="51.9" lengthAdjust="spacingAndGlyphs" >20 Aug 2021</text>
<text x="708.5" y="671" font-size="10" fill="#000" font-weight="normal" textLength="47.35" lengthAdjust="spacingAndGlyphs" >8 Sep 2021</text>
<text x="772.5" y="671" font-size="10" fill="#000" font-weight="normal" textLength="52.4" lengthAdjust="spacingAndGlyphs" >27 Sep 2021</text>
<text x="836.5" y="671" font-size="10" fill="#000" font-weight="normal" textLength="50.37" lengthAdjust="spacingAndGlyphs" >15 Oct 2021</text>
<text x="900.5" y="671" font-size="10" fill="#000" font-weight="normal" textLength="47.34" lengthAdjust="spacingAndGlyphs" >3 Nov 2021</text>
<g shape-rendering="crispEdges">
<rect x="0" y="680" width="1210" height="1" fill="#e8e8e8" />
<rect x="0" y="681" width="1210" height="1" fill="#000" />
<rect x="0" y="682" width="1210" height="1" fill="#fafafa" />
<rect x="0" y="683" width="1210" height="18" fill="#f0f0f0" />
<rect x="0" y="701" width="1210" height="2" fill="#fcfcfc" />
<rect x="0" y="703" width="1210" height="2" fill="#f0f0f0" />
<rect x="0" y="705" width="1210" height="1" fill="#a8a8a8" />
<rect x="0" y="706" width="1210" height="1" fill="#e0e0e0" />
<rect x="0" y="682" width="1" height="19" fill="#a0a0a0" />
<rect x="1" y="682" width="1" height="18" fill="#696969" />
<rect x="395" y="681" width="102" height="18" fill="#fff" />
<rect x="394" y="681" width="1" height="19" fill="#000" />
<rect x="497" y="681" width="1" height="19" fill="#000" />
<rect x="498" y="699" width="1" height="1" fill="#696969" />
<rect x="394" y="699" width="104" height="1" fill="#000" />
<rect x="98" y="684" width="1" height="14" fill="#5a5a5a" />
<rect x="202" y="684" width="1" height="14" fill="#5a5a5a" />
<rect x="290" y="684" width="1" height="14" fill="#5a5a5a" />
<rect x="574" y="684" width="1" height="14" fill="#5a5a5a" />
<rect x="642" y="684" width="1" height="14" fill="#5a5a5a" />
<rect x="742" y="684" width="1" height="14" fill="#5a5a5a" />
<rect x="842" y="684" width="1" height="14" fill="#5a5a5a" />
<rect x="934" y="684" width="1" height="14" fill="#5a5a5a" />
<rect x="1034" y="684" width="1" height="14" fill="#5a5a5a" />
</g>
<text x="18.3" y="696" font-size="12.5" fill="#808080" font-weight="normal" textLength="67.6" lengthAdjust="spacingAndGlyphs" >EURUSD,H4</text>
<text x="108.9" y="696" font-size="12.5" fill="#808080" font-weight="normal" textLength="82.4" lengthAdjust="spacingAndGlyphs" >AUDUSD,Daily</text>
<text x="212.6" y="696" font-size="12.5" fill="#808080" font-weight="normal" textLength="66.9" lengthAdjust="spacingAndGlyphs" >USDCHF,H4</text>
<text x="301.5" y="696" font-size="12.5" fill="#808080" font-weight="normal" textLength="80.5" lengthAdjust="spacingAndGlyphs" >USDCAD,Daily</text>
<text x="404.3" y="696" font-size="12.5" fill="#000" font-weight="normal" textLength="82.2" lengthAdjust="spacingAndGlyphs" >USDCNH,Daily</text>
<text x="510.5" y="696" font-size="12.5" fill="#808080" font-weight="normal" textLength="51.4" lengthAdjust="spacingAndGlyphs" >UKOil,H4</text>
<text x="584.0" y="696" font-size="12.5" fill="#808080" font-weight="normal" textLength="47.0" lengthAdjust="spacingAndGlyphs" >DJ30,H4</text>
<text x="652.7" y="696" font-size="12.5" fill="#808080" font-weight="normal" textLength="78.8" lengthAdjust="spacingAndGlyphs" >USDX,Weekly</text>
<text x="752.0" y="696" font-size="12.5" fill="#808080" font-weight="normal" textLength="78.8" lengthAdjust="spacingAndGlyphs" >XAUUSD,M30</text>
<text x="853.9000000000001" y="696" font-size="12.5" fill="#808080" font-weight="normal" textLength="68.1" lengthAdjust="spacingAndGlyphs" >GBPUSD,H1</text>
<text x="945.3000000000001" y="696" font-size="12.5" fill="#808080" font-weight="normal" textLength="78.2" lengthAdjust="spacingAndGlyphs" >USDX,Weekly</text>
<path d="M1186.2 686.5 L1186.2 693.5 L1182.7 690 Z" fill="#8c8c8c"/>
<path d="M1201.8 686.5 L1201.8 693.5 L1205.3 690 Z" fill="#8c8c8c"/>
</svg></body></html>
